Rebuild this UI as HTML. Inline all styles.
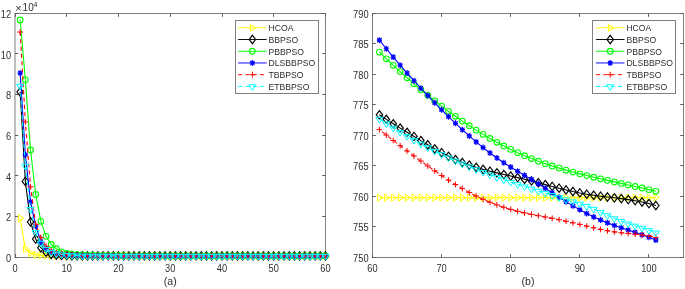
<!DOCTYPE html>
<html><head><meta charset="utf-8"><title>Convergence curves</title>
<style>html,body{margin:0;padding:0;background:#fff;width:685px;height:289px;overflow:hidden;font-family:"Liberation Sans",sans-serif}svg{display:block;will-change:transform}</style>
</head><body>
<svg width="685" height="289" viewBox="0 0 685 289">
<rect width="685" height="289" fill="#ffffff"/>
<rect x="15.0" y="13.5" width="310.5" height="244.0" fill="none" stroke="#7f7f7f" stroke-width="1"/>
<path d="M15.5,257.5v-3.3M15.5,13.5v3.3" stroke="#5e5e5e" stroke-width="1"/>
<path d="M66.5,257.5v-3.3M66.5,13.5v3.3" stroke="#5e5e5e" stroke-width="1"/>
<path d="M118.5,257.5v-3.3M118.5,13.5v3.3" stroke="#5e5e5e" stroke-width="1"/>
<path d="M170.5,257.5v-3.3M170.5,13.5v3.3" stroke="#5e5e5e" stroke-width="1"/>
<path d="M222.5,257.5v-3.3M222.5,13.5v3.3" stroke="#5e5e5e" stroke-width="1"/>
<path d="M273.5,257.5v-3.3M273.5,13.5v3.3" stroke="#5e5e5e" stroke-width="1"/>
<path d="M325.5,257.5v-3.3M325.5,13.5v3.3" stroke="#5e5e5e" stroke-width="1"/>
<path d="M15.0,257.5h3.3M325.5,257.5h-3.3" stroke="#5e5e5e" stroke-width="1"/>
<path d="M15.0,216.5h3.3M325.5,216.5h-3.3" stroke="#5e5e5e" stroke-width="1"/>
<path d="M15.0,175.5h3.3M325.5,175.5h-3.3" stroke="#5e5e5e" stroke-width="1"/>
<path d="M15.0,135.5h3.3M325.5,135.5h-3.3" stroke="#5e5e5e" stroke-width="1"/>
<path d="M15.0,94.5h3.3M325.5,94.5h-3.3" stroke="#5e5e5e" stroke-width="1"/>
<path d="M15.0,53.5h3.3M325.5,53.5h-3.3" stroke="#5e5e5e" stroke-width="1"/>
<path d="M15.0,13.5h3.3M325.5,13.5h-3.3" stroke="#5e5e5e" stroke-width="1"/>
<polyline points="20.18,218.26 25.35,248.96 30.52,253.23 35.70,254.86 40.88,255.35 46.05,255.62 51.23,255.77 56.40,255.86 61.58,255.90 66.75,255.92 71.92,255.94 77.10,255.95 82.28,255.95 87.45,255.95 92.62,255.95 97.80,255.95 102.97,255.95 108.15,255.95 113.33,255.95 118.50,255.95 123.67,255.95 128.85,255.95 134.03,255.95 139.20,255.95 144.38,255.95 149.55,255.95 154.72,255.95 159.90,255.95 165.07,255.95 170.25,255.95 175.43,255.95 180.60,255.95 185.78,255.95 190.95,255.95 196.12,255.95 201.30,255.95 206.47,255.95 211.65,255.95 216.82,255.95 222.00,255.95 227.18,255.95 232.35,255.95 237.53,255.95 242.70,255.95 247.88,255.95 253.05,255.95 258.23,255.95 263.40,255.95 268.57,255.95 273.75,255.95 278.93,255.95 284.10,255.95 289.27,255.95 294.45,255.95 299.62,255.95 304.80,255.95 309.98,255.95 315.15,255.95 320.32,255.95 325.50,255.95" fill="none" stroke="#ffff00" stroke-width="1.1"/>
<polygon points="18.38,214.76 18.38,221.76 23.57,218.26" fill="none" stroke="#ffff00" stroke-width="1.0"/>
<polygon points="23.55,245.46 23.55,252.46 28.75,248.96" fill="none" stroke="#ffff00" stroke-width="1.0"/>
<polygon points="28.72,249.73 28.72,256.73 33.92,253.23" fill="none" stroke="#ffff00" stroke-width="1.0"/>
<polygon points="33.90,251.36 33.90,258.36 39.10,254.86" fill="none" stroke="#ffff00" stroke-width="1.0"/>
<polygon points="39.08,251.85 39.08,258.85 44.27,255.35" fill="none" stroke="#ffff00" stroke-width="1.0"/>
<polygon points="44.25,252.12 44.25,259.12 49.45,255.62" fill="none" stroke="#ffff00" stroke-width="1.0"/>
<polygon points="49.43,252.27 49.43,259.27 54.62,255.77" fill="none" stroke="#ffff00" stroke-width="1.0"/>
<polygon points="54.60,252.36 54.60,259.36 59.80,255.86" fill="none" stroke="#ffff00" stroke-width="1.0"/>
<polygon points="59.78,252.40 59.78,259.40 64.98,255.90" fill="none" stroke="#ffff00" stroke-width="1.0"/>
<polygon points="64.95,252.42 64.95,259.42 70.15,255.92" fill="none" stroke="#ffff00" stroke-width="1.0"/>
<polygon points="70.12,252.44 70.12,259.44 75.33,255.94" fill="none" stroke="#ffff00" stroke-width="1.0"/>
<polygon points="75.30,252.45 75.30,259.45 80.50,255.95" fill="none" stroke="#ffff00" stroke-width="1.0"/>
<polygon points="80.48,252.45 80.48,259.45 85.68,255.95" fill="none" stroke="#ffff00" stroke-width="1.0"/>
<polygon points="85.65,252.45 85.65,259.45 90.85,255.95" fill="none" stroke="#ffff00" stroke-width="1.0"/>
<polygon points="90.83,252.45 90.83,259.45 96.03,255.95" fill="none" stroke="#ffff00" stroke-width="1.0"/>
<polygon points="96.00,252.45 96.00,259.45 101.20,255.95" fill="none" stroke="#ffff00" stroke-width="1.0"/>
<polygon points="101.17,252.45 101.17,259.45 106.38,255.95" fill="none" stroke="#ffff00" stroke-width="1.0"/>
<polygon points="106.35,252.45 106.35,259.45 111.55,255.95" fill="none" stroke="#ffff00" stroke-width="1.0"/>
<polygon points="111.53,252.45 111.53,259.45 116.73,255.95" fill="none" stroke="#ffff00" stroke-width="1.0"/>
<polygon points="116.70,252.45 116.70,259.45 121.90,255.95" fill="none" stroke="#ffff00" stroke-width="1.0"/>
<polygon points="121.88,252.45 121.88,259.45 127.08,255.95" fill="none" stroke="#ffff00" stroke-width="1.0"/>
<polygon points="127.05,252.45 127.05,259.45 132.25,255.95" fill="none" stroke="#ffff00" stroke-width="1.0"/>
<polygon points="132.22,252.45 132.22,259.45 137.43,255.95" fill="none" stroke="#ffff00" stroke-width="1.0"/>
<polygon points="137.40,252.45 137.40,259.45 142.60,255.95" fill="none" stroke="#ffff00" stroke-width="1.0"/>
<polygon points="142.57,252.45 142.57,259.45 147.78,255.95" fill="none" stroke="#ffff00" stroke-width="1.0"/>
<polygon points="147.75,252.45 147.75,259.45 152.95,255.95" fill="none" stroke="#ffff00" stroke-width="1.0"/>
<polygon points="152.92,252.45 152.92,259.45 158.12,255.95" fill="none" stroke="#ffff00" stroke-width="1.0"/>
<polygon points="158.10,252.45 158.10,259.45 163.30,255.95" fill="none" stroke="#ffff00" stroke-width="1.0"/>
<polygon points="163.27,252.45 163.27,259.45 168.47,255.95" fill="none" stroke="#ffff00" stroke-width="1.0"/>
<polygon points="168.45,252.45 168.45,259.45 173.65,255.95" fill="none" stroke="#ffff00" stroke-width="1.0"/>
<polygon points="173.62,252.45 173.62,259.45 178.83,255.95" fill="none" stroke="#ffff00" stroke-width="1.0"/>
<polygon points="178.80,252.45 178.80,259.45 184.00,255.95" fill="none" stroke="#ffff00" stroke-width="1.0"/>
<polygon points="183.97,252.45 183.97,259.45 189.18,255.95" fill="none" stroke="#ffff00" stroke-width="1.0"/>
<polygon points="189.15,252.45 189.15,259.45 194.35,255.95" fill="none" stroke="#ffff00" stroke-width="1.0"/>
<polygon points="194.32,252.45 194.32,259.45 199.53,255.95" fill="none" stroke="#ffff00" stroke-width="1.0"/>
<polygon points="199.50,252.45 199.50,259.45 204.70,255.95" fill="none" stroke="#ffff00" stroke-width="1.0"/>
<polygon points="204.67,252.45 204.67,259.45 209.88,255.95" fill="none" stroke="#ffff00" stroke-width="1.0"/>
<polygon points="209.85,252.45 209.85,259.45 215.05,255.95" fill="none" stroke="#ffff00" stroke-width="1.0"/>
<polygon points="215.02,252.45 215.02,259.45 220.22,255.95" fill="none" stroke="#ffff00" stroke-width="1.0"/>
<polygon points="220.20,252.45 220.20,259.45 225.40,255.95" fill="none" stroke="#ffff00" stroke-width="1.0"/>
<polygon points="225.38,252.45 225.38,259.45 230.58,255.95" fill="none" stroke="#ffff00" stroke-width="1.0"/>
<polygon points="230.55,252.45 230.55,259.45 235.75,255.95" fill="none" stroke="#ffff00" stroke-width="1.0"/>
<polygon points="235.72,252.45 235.72,259.45 240.93,255.95" fill="none" stroke="#ffff00" stroke-width="1.0"/>
<polygon points="240.90,252.45 240.90,259.45 246.10,255.95" fill="none" stroke="#ffff00" stroke-width="1.0"/>
<polygon points="246.07,252.45 246.07,259.45 251.28,255.95" fill="none" stroke="#ffff00" stroke-width="1.0"/>
<polygon points="251.25,252.45 251.25,259.45 256.45,255.95" fill="none" stroke="#ffff00" stroke-width="1.0"/>
<polygon points="256.43,252.45 256.43,259.45 261.62,255.95" fill="none" stroke="#ffff00" stroke-width="1.0"/>
<polygon points="261.60,252.45 261.60,259.45 266.80,255.95" fill="none" stroke="#ffff00" stroke-width="1.0"/>
<polygon points="266.77,252.45 266.77,259.45 271.97,255.95" fill="none" stroke="#ffff00" stroke-width="1.0"/>
<polygon points="271.95,252.45 271.95,259.45 277.15,255.95" fill="none" stroke="#ffff00" stroke-width="1.0"/>
<polygon points="277.12,252.45 277.12,259.45 282.32,255.95" fill="none" stroke="#ffff00" stroke-width="1.0"/>
<polygon points="282.30,252.45 282.30,259.45 287.50,255.95" fill="none" stroke="#ffff00" stroke-width="1.0"/>
<polygon points="287.47,252.45 287.47,259.45 292.67,255.95" fill="none" stroke="#ffff00" stroke-width="1.0"/>
<polygon points="292.65,252.45 292.65,259.45 297.85,255.95" fill="none" stroke="#ffff00" stroke-width="1.0"/>
<polygon points="297.82,252.45 297.82,259.45 303.02,255.95" fill="none" stroke="#ffff00" stroke-width="1.0"/>
<polygon points="303.00,252.45 303.00,259.45 308.20,255.95" fill="none" stroke="#ffff00" stroke-width="1.0"/>
<polygon points="308.18,252.45 308.18,259.45 313.38,255.95" fill="none" stroke="#ffff00" stroke-width="1.0"/>
<polygon points="313.35,252.45 313.35,259.45 318.55,255.95" fill="none" stroke="#ffff00" stroke-width="1.0"/>
<polygon points="318.52,252.45 318.52,259.45 323.72,255.95" fill="none" stroke="#ffff00" stroke-width="1.0"/>
<polygon points="323.70,252.45 323.70,259.45 328.90,255.95" fill="none" stroke="#ffff00" stroke-width="1.0"/>
<polyline points="20.18,91.99 25.35,181.45 30.52,221.92 35.70,239.00 40.88,247.74 46.05,252.21 51.23,254.45 56.40,255.03 61.58,255.38 66.75,255.60 71.92,255.73 77.10,255.81 82.28,255.85 87.45,255.88 92.62,255.90 97.80,255.91 102.97,255.92 108.15,255.92 113.33,255.92 118.50,255.93 123.67,255.93 128.85,255.93 134.03,255.93 139.20,255.93 144.38,255.93 149.55,255.93 154.72,255.93 159.90,255.93 165.07,255.93 170.25,255.93 175.43,255.93 180.60,255.93 185.78,255.93 190.95,255.93 196.12,255.93 201.30,255.93 206.47,255.93 211.65,255.93 216.82,255.93 222.00,255.93 227.18,255.93 232.35,255.93 237.53,255.93 242.70,255.93 247.88,255.93 253.05,255.93 258.23,255.93 263.40,255.93 268.57,255.93 273.75,255.93 278.93,255.93 284.10,255.93 289.27,255.93 294.45,255.93 299.62,255.93 304.80,255.93 309.98,255.93 315.15,255.93 320.32,255.93 325.50,255.93" fill="none" stroke="#000000" stroke-width="1.1"/>
<polygon points="20.18,87.79 23.38,91.99 20.18,96.19 16.98,91.99" fill="none" stroke="#000000" stroke-width="1.15"/>
<polygon points="25.35,177.25 28.55,181.45 25.35,185.65 22.15,181.45" fill="none" stroke="#000000" stroke-width="1.15"/>
<polygon points="30.52,217.72 33.73,221.92 30.52,226.12 27.32,221.92" fill="none" stroke="#000000" stroke-width="1.15"/>
<polygon points="35.70,234.80 38.90,239.00 35.70,243.20 32.50,239.00" fill="none" stroke="#000000" stroke-width="1.15"/>
<polygon points="40.88,243.54 44.08,247.74 40.88,251.94 37.67,247.74" fill="none" stroke="#000000" stroke-width="1.15"/>
<polygon points="46.05,248.01 49.25,252.21 46.05,256.41 42.85,252.21" fill="none" stroke="#000000" stroke-width="1.15"/>
<polygon points="51.23,250.25 54.43,254.45 51.23,258.65 48.02,254.45" fill="none" stroke="#000000" stroke-width="1.15"/>
<polygon points="56.40,250.83 59.60,255.03 56.40,259.23 53.20,255.03" fill="none" stroke="#000000" stroke-width="1.15"/>
<polygon points="61.58,251.18 64.78,255.38 61.58,259.58 58.38,255.38" fill="none" stroke="#000000" stroke-width="1.15"/>
<polygon points="66.75,251.40 69.95,255.60 66.75,259.80 63.55,255.60" fill="none" stroke="#000000" stroke-width="1.15"/>
<polygon points="71.92,251.53 75.12,255.73 71.92,259.93 68.72,255.73" fill="none" stroke="#000000" stroke-width="1.15"/>
<polygon points="77.10,251.61 80.30,255.81 77.10,260.01 73.90,255.81" fill="none" stroke="#000000" stroke-width="1.15"/>
<polygon points="82.28,251.65 85.48,255.85 82.28,260.05 79.08,255.85" fill="none" stroke="#000000" stroke-width="1.15"/>
<polygon points="87.45,251.68 90.65,255.88 87.45,260.08 84.25,255.88" fill="none" stroke="#000000" stroke-width="1.15"/>
<polygon points="92.62,251.70 95.83,255.90 92.62,260.10 89.42,255.90" fill="none" stroke="#000000" stroke-width="1.15"/>
<polygon points="97.80,251.71 101.00,255.91 97.80,260.11 94.60,255.91" fill="none" stroke="#000000" stroke-width="1.15"/>
<polygon points="102.97,251.72 106.17,255.92 102.97,260.12 99.77,255.92" fill="none" stroke="#000000" stroke-width="1.15"/>
<polygon points="108.15,251.72 111.35,255.92 108.15,260.12 104.95,255.92" fill="none" stroke="#000000" stroke-width="1.15"/>
<polygon points="113.33,251.72 116.53,255.92 113.33,260.12 110.12,255.92" fill="none" stroke="#000000" stroke-width="1.15"/>
<polygon points="118.50,251.73 121.70,255.93 118.50,260.13 115.30,255.93" fill="none" stroke="#000000" stroke-width="1.15"/>
<polygon points="123.67,251.73 126.88,255.93 123.67,260.13 120.47,255.93" fill="none" stroke="#000000" stroke-width="1.15"/>
<polygon points="128.85,251.73 132.05,255.93 128.85,260.13 125.65,255.93" fill="none" stroke="#000000" stroke-width="1.15"/>
<polygon points="134.03,251.73 137.22,255.93 134.03,260.13 130.83,255.93" fill="none" stroke="#000000" stroke-width="1.15"/>
<polygon points="139.20,251.73 142.40,255.93 139.20,260.13 136.00,255.93" fill="none" stroke="#000000" stroke-width="1.15"/>
<polygon points="144.38,251.73 147.57,255.93 144.38,260.13 141.18,255.93" fill="none" stroke="#000000" stroke-width="1.15"/>
<polygon points="149.55,251.73 152.75,255.93 149.55,260.13 146.35,255.93" fill="none" stroke="#000000" stroke-width="1.15"/>
<polygon points="154.72,251.73 157.92,255.93 154.72,260.13 151.53,255.93" fill="none" stroke="#000000" stroke-width="1.15"/>
<polygon points="159.90,251.73 163.10,255.93 159.90,260.13 156.70,255.93" fill="none" stroke="#000000" stroke-width="1.15"/>
<polygon points="165.07,251.73 168.27,255.93 165.07,260.13 161.88,255.93" fill="none" stroke="#000000" stroke-width="1.15"/>
<polygon points="170.25,251.73 173.45,255.93 170.25,260.13 167.05,255.93" fill="none" stroke="#000000" stroke-width="1.15"/>
<polygon points="175.43,251.73 178.62,255.93 175.43,260.13 172.23,255.93" fill="none" stroke="#000000" stroke-width="1.15"/>
<polygon points="180.60,251.73 183.80,255.93 180.60,260.13 177.40,255.93" fill="none" stroke="#000000" stroke-width="1.15"/>
<polygon points="185.78,251.73 188.97,255.93 185.78,260.13 182.58,255.93" fill="none" stroke="#000000" stroke-width="1.15"/>
<polygon points="190.95,251.73 194.15,255.93 190.95,260.13 187.75,255.93" fill="none" stroke="#000000" stroke-width="1.15"/>
<polygon points="196.12,251.73 199.32,255.93 196.12,260.13 192.93,255.93" fill="none" stroke="#000000" stroke-width="1.15"/>
<polygon points="201.30,251.73 204.50,255.93 201.30,260.13 198.10,255.93" fill="none" stroke="#000000" stroke-width="1.15"/>
<polygon points="206.47,251.73 209.67,255.93 206.47,260.13 203.28,255.93" fill="none" stroke="#000000" stroke-width="1.15"/>
<polygon points="211.65,251.73 214.85,255.93 211.65,260.13 208.45,255.93" fill="none" stroke="#000000" stroke-width="1.15"/>
<polygon points="216.82,251.73 220.02,255.93 216.82,260.13 213.62,255.93" fill="none" stroke="#000000" stroke-width="1.15"/>
<polygon points="222.00,251.73 225.20,255.93 222.00,260.13 218.80,255.93" fill="none" stroke="#000000" stroke-width="1.15"/>
<polygon points="227.18,251.73 230.38,255.93 227.18,260.13 223.98,255.93" fill="none" stroke="#000000" stroke-width="1.15"/>
<polygon points="232.35,251.73 235.55,255.93 232.35,260.13 229.15,255.93" fill="none" stroke="#000000" stroke-width="1.15"/>
<polygon points="237.53,251.73 240.72,255.93 237.53,260.13 234.33,255.93" fill="none" stroke="#000000" stroke-width="1.15"/>
<polygon points="242.70,251.73 245.90,255.93 242.70,260.13 239.50,255.93" fill="none" stroke="#000000" stroke-width="1.15"/>
<polygon points="247.88,251.73 251.07,255.93 247.88,260.13 244.68,255.93" fill="none" stroke="#000000" stroke-width="1.15"/>
<polygon points="253.05,251.73 256.25,255.93 253.05,260.13 249.85,255.93" fill="none" stroke="#000000" stroke-width="1.15"/>
<polygon points="258.23,251.73 261.43,255.93 258.23,260.13 255.03,255.93" fill="none" stroke="#000000" stroke-width="1.15"/>
<polygon points="263.40,251.73 266.60,255.93 263.40,260.13 260.20,255.93" fill="none" stroke="#000000" stroke-width="1.15"/>
<polygon points="268.57,251.73 271.77,255.93 268.57,260.13 265.38,255.93" fill="none" stroke="#000000" stroke-width="1.15"/>
<polygon points="273.75,251.73 276.95,255.93 273.75,260.13 270.55,255.93" fill="none" stroke="#000000" stroke-width="1.15"/>
<polygon points="278.93,251.73 282.12,255.93 278.93,260.13 275.73,255.93" fill="none" stroke="#000000" stroke-width="1.15"/>
<polygon points="284.10,251.73 287.30,255.93 284.10,260.13 280.90,255.93" fill="none" stroke="#000000" stroke-width="1.15"/>
<polygon points="289.27,251.73 292.47,255.93 289.27,260.13 286.07,255.93" fill="none" stroke="#000000" stroke-width="1.15"/>
<polygon points="294.45,251.73 297.65,255.93 294.45,260.13 291.25,255.93" fill="none" stroke="#000000" stroke-width="1.15"/>
<polygon points="299.62,251.73 302.82,255.93 299.62,260.13 296.43,255.93" fill="none" stroke="#000000" stroke-width="1.15"/>
<polygon points="304.80,251.73 308.00,255.93 304.80,260.13 301.60,255.93" fill="none" stroke="#000000" stroke-width="1.15"/>
<polygon points="309.98,251.73 313.18,255.93 309.98,260.13 306.78,255.93" fill="none" stroke="#000000" stroke-width="1.15"/>
<polygon points="315.15,251.73 318.35,255.93 315.15,260.13 311.95,255.93" fill="none" stroke="#000000" stroke-width="1.15"/>
<polygon points="320.32,251.73 323.52,255.93 320.32,260.13 317.12,255.93" fill="none" stroke="#000000" stroke-width="1.15"/>
<polygon points="325.50,251.73 328.70,255.93 325.50,260.13 322.30,255.93" fill="none" stroke="#000000" stroke-width="1.15"/>
<polyline points="20.18,20.01 25.35,79.79 30.52,149.94 35.70,194.47 40.88,221.31 46.05,236.35 51.23,244.49 56.40,248.76 61.58,251.81 66.75,253.43 71.92,254.15 77.10,254.55 82.28,254.86 87.45,255.09 92.62,255.27 97.80,255.41 102.97,255.52 108.15,255.61 113.33,255.67 118.50,255.72 123.67,255.76 128.85,255.80 134.03,255.82 139.20,255.84 144.38,255.85 149.55,255.87 154.72,255.87 159.90,255.88 165.07,255.89 170.25,255.89 175.43,255.89 180.60,255.90 185.78,255.90 190.95,255.90 196.12,255.90 201.30,255.90 206.47,255.90 211.65,255.90 216.82,255.90 222.00,255.90 227.18,255.90 232.35,255.91 237.53,255.91 242.70,255.91 247.88,255.91 253.05,255.91 258.23,255.91 263.40,255.91 268.57,255.91 273.75,255.91 278.93,255.91 284.10,255.91 289.27,255.91 294.45,255.91 299.62,255.91 304.80,255.91 309.98,255.91 315.15,255.91 320.32,255.91 325.50,255.91" fill="none" stroke="#00ff00" stroke-width="1.1"/>
<circle cx="20.18" cy="20.01" r="2.85" fill="none" stroke="#00ff00" stroke-width="1.1"/>
<circle cx="25.35" cy="79.79" r="2.85" fill="none" stroke="#00ff00" stroke-width="1.1"/>
<circle cx="30.52" cy="149.94" r="2.85" fill="none" stroke="#00ff00" stroke-width="1.1"/>
<circle cx="35.70" cy="194.47" r="2.85" fill="none" stroke="#00ff00" stroke-width="1.1"/>
<circle cx="40.88" cy="221.31" r="2.85" fill="none" stroke="#00ff00" stroke-width="1.1"/>
<circle cx="46.05" cy="236.35" r="2.85" fill="none" stroke="#00ff00" stroke-width="1.1"/>
<circle cx="51.23" cy="244.49" r="2.85" fill="none" stroke="#00ff00" stroke-width="1.1"/>
<circle cx="56.40" cy="248.76" r="2.85" fill="none" stroke="#00ff00" stroke-width="1.1"/>
<circle cx="61.58" cy="251.81" r="2.85" fill="none" stroke="#00ff00" stroke-width="1.1"/>
<circle cx="66.75" cy="253.43" r="2.85" fill="none" stroke="#00ff00" stroke-width="1.1"/>
<circle cx="71.92" cy="254.15" r="2.85" fill="none" stroke="#00ff00" stroke-width="1.1"/>
<circle cx="77.10" cy="254.55" r="2.85" fill="none" stroke="#00ff00" stroke-width="1.1"/>
<circle cx="82.28" cy="254.86" r="2.85" fill="none" stroke="#00ff00" stroke-width="1.1"/>
<circle cx="87.45" cy="255.09" r="2.85" fill="none" stroke="#00ff00" stroke-width="1.1"/>
<circle cx="92.62" cy="255.27" r="2.85" fill="none" stroke="#00ff00" stroke-width="1.1"/>
<circle cx="97.80" cy="255.41" r="2.85" fill="none" stroke="#00ff00" stroke-width="1.1"/>
<circle cx="102.97" cy="255.52" r="2.85" fill="none" stroke="#00ff00" stroke-width="1.1"/>
<circle cx="108.15" cy="255.61" r="2.85" fill="none" stroke="#00ff00" stroke-width="1.1"/>
<circle cx="113.33" cy="255.67" r="2.85" fill="none" stroke="#00ff00" stroke-width="1.1"/>
<circle cx="118.50" cy="255.72" r="2.85" fill="none" stroke="#00ff00" stroke-width="1.1"/>
<circle cx="123.67" cy="255.76" r="2.85" fill="none" stroke="#00ff00" stroke-width="1.1"/>
<circle cx="128.85" cy="255.80" r="2.85" fill="none" stroke="#00ff00" stroke-width="1.1"/>
<circle cx="134.03" cy="255.82" r="2.85" fill="none" stroke="#00ff00" stroke-width="1.1"/>
<circle cx="139.20" cy="255.84" r="2.85" fill="none" stroke="#00ff00" stroke-width="1.1"/>
<circle cx="144.38" cy="255.85" r="2.85" fill="none" stroke="#00ff00" stroke-width="1.1"/>
<circle cx="149.55" cy="255.87" r="2.85" fill="none" stroke="#00ff00" stroke-width="1.1"/>
<circle cx="154.72" cy="255.87" r="2.85" fill="none" stroke="#00ff00" stroke-width="1.1"/>
<circle cx="159.90" cy="255.88" r="2.85" fill="none" stroke="#00ff00" stroke-width="1.1"/>
<circle cx="165.07" cy="255.89" r="2.85" fill="none" stroke="#00ff00" stroke-width="1.1"/>
<circle cx="170.25" cy="255.89" r="2.85" fill="none" stroke="#00ff00" stroke-width="1.1"/>
<circle cx="175.43" cy="255.89" r="2.85" fill="none" stroke="#00ff00" stroke-width="1.1"/>
<circle cx="180.60" cy="255.90" r="2.85" fill="none" stroke="#00ff00" stroke-width="1.1"/>
<circle cx="185.78" cy="255.90" r="2.85" fill="none" stroke="#00ff00" stroke-width="1.1"/>
<circle cx="190.95" cy="255.90" r="2.85" fill="none" stroke="#00ff00" stroke-width="1.1"/>
<circle cx="196.12" cy="255.90" r="2.85" fill="none" stroke="#00ff00" stroke-width="1.1"/>
<circle cx="201.30" cy="255.90" r="2.85" fill="none" stroke="#00ff00" stroke-width="1.1"/>
<circle cx="206.47" cy="255.90" r="2.85" fill="none" stroke="#00ff00" stroke-width="1.1"/>
<circle cx="211.65" cy="255.90" r="2.85" fill="none" stroke="#00ff00" stroke-width="1.1"/>
<circle cx="216.82" cy="255.90" r="2.85" fill="none" stroke="#00ff00" stroke-width="1.1"/>
<circle cx="222.00" cy="255.90" r="2.85" fill="none" stroke="#00ff00" stroke-width="1.1"/>
<circle cx="227.18" cy="255.90" r="2.85" fill="none" stroke="#00ff00" stroke-width="1.1"/>
<circle cx="232.35" cy="255.91" r="2.85" fill="none" stroke="#00ff00" stroke-width="1.1"/>
<circle cx="237.53" cy="255.91" r="2.85" fill="none" stroke="#00ff00" stroke-width="1.1"/>
<circle cx="242.70" cy="255.91" r="2.85" fill="none" stroke="#00ff00" stroke-width="1.1"/>
<circle cx="247.88" cy="255.91" r="2.85" fill="none" stroke="#00ff00" stroke-width="1.1"/>
<circle cx="253.05" cy="255.91" r="2.85" fill="none" stroke="#00ff00" stroke-width="1.1"/>
<circle cx="258.23" cy="255.91" r="2.85" fill="none" stroke="#00ff00" stroke-width="1.1"/>
<circle cx="263.40" cy="255.91" r="2.85" fill="none" stroke="#00ff00" stroke-width="1.1"/>
<circle cx="268.57" cy="255.91" r="2.85" fill="none" stroke="#00ff00" stroke-width="1.1"/>
<circle cx="273.75" cy="255.91" r="2.85" fill="none" stroke="#00ff00" stroke-width="1.1"/>
<circle cx="278.93" cy="255.91" r="2.85" fill="none" stroke="#00ff00" stroke-width="1.1"/>
<circle cx="284.10" cy="255.91" r="2.85" fill="none" stroke="#00ff00" stroke-width="1.1"/>
<circle cx="289.27" cy="255.91" r="2.85" fill="none" stroke="#00ff00" stroke-width="1.1"/>
<circle cx="294.45" cy="255.91" r="2.85" fill="none" stroke="#00ff00" stroke-width="1.1"/>
<circle cx="299.62" cy="255.91" r="2.85" fill="none" stroke="#00ff00" stroke-width="1.1"/>
<circle cx="304.80" cy="255.91" r="2.85" fill="none" stroke="#00ff00" stroke-width="1.1"/>
<circle cx="309.98" cy="255.91" r="2.85" fill="none" stroke="#00ff00" stroke-width="1.1"/>
<circle cx="315.15" cy="255.91" r="2.85" fill="none" stroke="#00ff00" stroke-width="1.1"/>
<circle cx="320.32" cy="255.91" r="2.85" fill="none" stroke="#00ff00" stroke-width="1.1"/>
<circle cx="325.50" cy="255.91" r="2.85" fill="none" stroke="#00ff00" stroke-width="1.1"/>
<polyline points="20.18,73.08 25.35,154.82 30.52,201.79 35.70,226.19 40.88,241.64 46.05,248.35 51.23,251.81 56.40,253.42 61.58,254.40 66.75,254.99 71.92,255.35 77.10,255.57 82.28,255.70 87.45,255.78 92.62,255.83 97.80,255.86 102.97,255.87 108.15,255.89 113.33,255.89 118.50,255.90 123.67,255.90 128.85,255.90 134.03,255.90 139.20,255.90 144.38,255.90 149.55,255.90 154.72,255.90 159.90,255.90 165.07,255.90 170.25,255.90 175.43,255.90 180.60,255.90 185.78,255.90 190.95,255.90 196.12,255.90 201.30,255.90 206.47,255.90 211.65,255.90 216.82,255.90 222.00,255.90 227.18,255.90 232.35,255.90 237.53,255.90 242.70,255.90 247.88,255.90 253.05,255.90 258.23,255.90 263.40,255.90 268.57,255.90 273.75,255.90 278.93,255.90 284.10,255.90 289.27,255.90 294.45,255.90 299.62,255.90 304.80,255.90 309.98,255.90 315.15,255.90 320.32,255.90 325.50,255.90" fill="none" stroke="#0000ff" stroke-width="1.1"/>
<path d="M20.18,70.08V76.08M17.57,73.08H22.78M18.07,70.98L22.28,75.18M18.07,75.18L22.28,70.98" stroke="#0000ff" stroke-width="1.2" fill="none"/>
<path d="M25.35,151.82V157.82M22.75,154.82H27.95M23.25,152.72L27.45,156.92M23.25,156.92L27.45,152.72" stroke="#0000ff" stroke-width="1.2" fill="none"/>
<path d="M30.52,198.79V204.79M27.92,201.79H33.12M28.42,199.69L32.62,203.89M28.42,203.89L32.62,199.69" stroke="#0000ff" stroke-width="1.2" fill="none"/>
<path d="M35.70,223.19V229.19M33.10,226.19H38.30M33.60,224.09L37.80,228.29M33.60,228.29L37.80,224.09" stroke="#0000ff" stroke-width="1.2" fill="none"/>
<path d="M40.88,238.64V244.64M38.27,241.64H43.48M38.77,239.54L42.98,243.74M38.77,243.74L42.98,239.54" stroke="#0000ff" stroke-width="1.2" fill="none"/>
<path d="M46.05,245.35V251.35M43.45,248.35H48.65M43.95,246.25L48.15,250.45M43.95,250.45L48.15,246.25" stroke="#0000ff" stroke-width="1.2" fill="none"/>
<path d="M51.23,248.81V254.81M48.62,251.81H53.83M49.12,249.71L53.33,253.91M49.12,253.91L53.33,249.71" stroke="#0000ff" stroke-width="1.2" fill="none"/>
<path d="M56.40,250.42V256.42M53.80,253.42H59.00M54.30,251.32L58.50,255.52M54.30,255.52L58.50,251.32" stroke="#0000ff" stroke-width="1.2" fill="none"/>
<path d="M61.58,251.40V257.40M58.98,254.40H64.17M59.48,252.30L63.68,256.50M59.48,256.50L63.68,252.30" stroke="#0000ff" stroke-width="1.2" fill="none"/>
<path d="M66.75,251.99V257.99M64.15,254.99H69.35M64.65,252.89L68.85,257.09M64.65,257.09L68.85,252.89" stroke="#0000ff" stroke-width="1.2" fill="none"/>
<path d="M71.92,252.35V258.35M69.33,255.35H74.52M69.83,253.25L74.02,257.45M69.83,257.45L74.02,253.25" stroke="#0000ff" stroke-width="1.2" fill="none"/>
<path d="M77.10,252.57V258.57M74.50,255.57H79.70M75.00,253.47L79.20,257.67M75.00,257.67L79.20,253.47" stroke="#0000ff" stroke-width="1.2" fill="none"/>
<path d="M82.28,252.70V258.70M79.68,255.70H84.88M80.18,253.60L84.38,257.80M80.18,257.80L84.38,253.60" stroke="#0000ff" stroke-width="1.2" fill="none"/>
<path d="M87.45,252.78V258.78M84.85,255.78H90.05M85.35,253.68L89.55,257.88M85.35,257.88L89.55,253.68" stroke="#0000ff" stroke-width="1.2" fill="none"/>
<path d="M92.62,252.83V258.83M90.03,255.83H95.22M90.53,253.73L94.72,257.93M90.53,257.93L94.72,253.73" stroke="#0000ff" stroke-width="1.2" fill="none"/>
<path d="M97.80,252.86V258.86M95.20,255.86H100.40M95.70,253.76L99.90,257.96M95.70,257.96L99.90,253.76" stroke="#0000ff" stroke-width="1.2" fill="none"/>
<path d="M102.97,252.87V258.87M100.38,255.87H105.57M100.88,253.77L105.07,257.97M100.88,257.97L105.07,253.77" stroke="#0000ff" stroke-width="1.2" fill="none"/>
<path d="M108.15,252.89V258.89M105.55,255.89H110.75M106.05,253.79L110.25,257.99M106.05,257.99L110.25,253.79" stroke="#0000ff" stroke-width="1.2" fill="none"/>
<path d="M113.33,252.89V258.89M110.73,255.89H115.92M111.23,253.79L115.42,257.99M111.23,257.99L115.42,253.79" stroke="#0000ff" stroke-width="1.2" fill="none"/>
<path d="M118.50,252.90V258.90M115.90,255.90H121.10M116.40,253.80L120.60,258.00M116.40,258.00L120.60,253.80" stroke="#0000ff" stroke-width="1.2" fill="none"/>
<path d="M123.67,252.90V258.90M121.08,255.90H126.27M121.58,253.80L125.77,258.00M121.58,258.00L125.77,253.80" stroke="#0000ff" stroke-width="1.2" fill="none"/>
<path d="M128.85,252.90V258.90M126.25,255.90H131.45M126.75,253.80L130.95,258.00M126.75,258.00L130.95,253.80" stroke="#0000ff" stroke-width="1.2" fill="none"/>
<path d="M134.03,252.90V258.90M131.43,255.90H136.62M131.93,253.80L136.12,258.00M131.93,258.00L136.12,253.80" stroke="#0000ff" stroke-width="1.2" fill="none"/>
<path d="M139.20,252.90V258.90M136.60,255.90H141.80M137.10,253.80L141.30,258.00M137.10,258.00L141.30,253.80" stroke="#0000ff" stroke-width="1.2" fill="none"/>
<path d="M144.38,252.90V258.90M141.78,255.90H146.97M142.28,253.80L146.47,258.00M142.28,258.00L146.47,253.80" stroke="#0000ff" stroke-width="1.2" fill="none"/>
<path d="M149.55,252.90V258.90M146.95,255.90H152.15M147.45,253.80L151.65,258.00M147.45,258.00L151.65,253.80" stroke="#0000ff" stroke-width="1.2" fill="none"/>
<path d="M154.72,252.90V258.90M152.12,255.90H157.32M152.62,253.80L156.82,258.00M152.62,258.00L156.82,253.80" stroke="#0000ff" stroke-width="1.2" fill="none"/>
<path d="M159.90,252.90V258.90M157.30,255.90H162.50M157.80,253.80L162.00,258.00M157.80,258.00L162.00,253.80" stroke="#0000ff" stroke-width="1.2" fill="none"/>
<path d="M165.07,252.90V258.90M162.47,255.90H167.67M162.97,253.80L167.17,258.00M162.97,258.00L167.17,253.80" stroke="#0000ff" stroke-width="1.2" fill="none"/>
<path d="M170.25,252.90V258.90M167.65,255.90H172.85M168.15,253.80L172.35,258.00M168.15,258.00L172.35,253.80" stroke="#0000ff" stroke-width="1.2" fill="none"/>
<path d="M175.43,252.90V258.90M172.83,255.90H178.03M173.33,253.80L177.53,258.00M173.33,258.00L177.53,253.80" stroke="#0000ff" stroke-width="1.2" fill="none"/>
<path d="M180.60,252.90V258.90M178.00,255.90H183.20M178.50,253.80L182.70,258.00M178.50,258.00L182.70,253.80" stroke="#0000ff" stroke-width="1.2" fill="none"/>
<path d="M185.78,252.90V258.90M183.18,255.90H188.38M183.68,253.80L187.88,258.00M183.68,258.00L187.88,253.80" stroke="#0000ff" stroke-width="1.2" fill="none"/>
<path d="M190.95,252.90V258.90M188.35,255.90H193.55M188.85,253.80L193.05,258.00M188.85,258.00L193.05,253.80" stroke="#0000ff" stroke-width="1.2" fill="none"/>
<path d="M196.12,252.90V258.90M193.53,255.90H198.72M194.03,253.80L198.22,258.00M194.03,258.00L198.22,253.80" stroke="#0000ff" stroke-width="1.2" fill="none"/>
<path d="M201.30,252.90V258.90M198.70,255.90H203.90M199.20,253.80L203.40,258.00M199.20,258.00L203.40,253.80" stroke="#0000ff" stroke-width="1.2" fill="none"/>
<path d="M206.47,252.90V258.90M203.88,255.90H209.07M204.38,253.80L208.57,258.00M204.38,258.00L208.57,253.80" stroke="#0000ff" stroke-width="1.2" fill="none"/>
<path d="M211.65,252.90V258.90M209.05,255.90H214.25M209.55,253.80L213.75,258.00M209.55,258.00L213.75,253.80" stroke="#0000ff" stroke-width="1.2" fill="none"/>
<path d="M216.82,252.90V258.90M214.22,255.90H219.42M214.72,253.80L218.92,258.00M214.72,258.00L218.92,253.80" stroke="#0000ff" stroke-width="1.2" fill="none"/>
<path d="M222.00,252.90V258.90M219.40,255.90H224.60M219.90,253.80L224.10,258.00M219.90,258.00L224.10,253.80" stroke="#0000ff" stroke-width="1.2" fill="none"/>
<path d="M227.18,252.90V258.90M224.58,255.90H229.78M225.08,253.80L229.28,258.00M225.08,258.00L229.28,253.80" stroke="#0000ff" stroke-width="1.2" fill="none"/>
<path d="M232.35,252.90V258.90M229.75,255.90H234.95M230.25,253.80L234.45,258.00M230.25,258.00L234.45,253.80" stroke="#0000ff" stroke-width="1.2" fill="none"/>
<path d="M237.53,252.90V258.90M234.93,255.90H240.12M235.43,253.80L239.62,258.00M235.43,258.00L239.62,253.80" stroke="#0000ff" stroke-width="1.2" fill="none"/>
<path d="M242.70,252.90V258.90M240.10,255.90H245.30M240.60,253.80L244.80,258.00M240.60,258.00L244.80,253.80" stroke="#0000ff" stroke-width="1.2" fill="none"/>
<path d="M247.88,252.90V258.90M245.28,255.90H250.47M245.78,253.80L249.97,258.00M245.78,258.00L249.97,253.80" stroke="#0000ff" stroke-width="1.2" fill="none"/>
<path d="M253.05,252.90V258.90M250.45,255.90H255.65M250.95,253.80L255.15,258.00M250.95,258.00L255.15,253.80" stroke="#0000ff" stroke-width="1.2" fill="none"/>
<path d="M258.23,252.90V258.90M255.63,255.90H260.83M256.12,253.80L260.33,258.00M256.12,258.00L260.33,253.80" stroke="#0000ff" stroke-width="1.2" fill="none"/>
<path d="M263.40,252.90V258.90M260.80,255.90H266.00M261.30,253.80L265.50,258.00M261.30,258.00L265.50,253.80" stroke="#0000ff" stroke-width="1.2" fill="none"/>
<path d="M268.57,252.90V258.90M265.97,255.90H271.18M266.47,253.80L270.68,258.00M266.47,258.00L270.68,253.80" stroke="#0000ff" stroke-width="1.2" fill="none"/>
<path d="M273.75,252.90V258.90M271.15,255.90H276.35M271.65,253.80L275.85,258.00M271.65,258.00L275.85,253.80" stroke="#0000ff" stroke-width="1.2" fill="none"/>
<path d="M278.93,252.90V258.90M276.32,255.90H281.53M276.82,253.80L281.03,258.00M276.82,258.00L281.03,253.80" stroke="#0000ff" stroke-width="1.2" fill="none"/>
<path d="M284.10,252.90V258.90M281.50,255.90H286.70M282.00,253.80L286.20,258.00M282.00,258.00L286.20,253.80" stroke="#0000ff" stroke-width="1.2" fill="none"/>
<path d="M289.27,252.90V258.90M286.67,255.90H291.88M287.17,253.80L291.38,258.00M287.17,258.00L291.38,253.80" stroke="#0000ff" stroke-width="1.2" fill="none"/>
<path d="M294.45,252.90V258.90M291.85,255.90H297.05M292.35,253.80L296.55,258.00M292.35,258.00L296.55,253.80" stroke="#0000ff" stroke-width="1.2" fill="none"/>
<path d="M299.62,252.90V258.90M297.02,255.90H302.23M297.52,253.80L301.73,258.00M297.52,258.00L301.73,253.80" stroke="#0000ff" stroke-width="1.2" fill="none"/>
<path d="M304.80,252.90V258.90M302.20,255.90H307.40M302.70,253.80L306.90,258.00M302.70,258.00L306.90,253.80" stroke="#0000ff" stroke-width="1.2" fill="none"/>
<path d="M309.98,252.90V258.90M307.38,255.90H312.58M307.88,253.80L312.08,258.00M307.88,258.00L312.08,253.80" stroke="#0000ff" stroke-width="1.2" fill="none"/>
<path d="M315.15,252.90V258.90M312.55,255.90H317.75M313.05,253.80L317.25,258.00M313.05,258.00L317.25,253.80" stroke="#0000ff" stroke-width="1.2" fill="none"/>
<path d="M320.32,252.90V258.90M317.72,255.90H322.93M318.22,253.80L322.43,258.00M318.22,258.00L322.43,253.80" stroke="#0000ff" stroke-width="1.2" fill="none"/>
<path d="M325.50,252.90V258.90M322.90,255.90H328.10M323.40,253.80L327.60,258.00M323.40,258.00L327.60,253.80" stroke="#0000ff" stroke-width="1.2" fill="none"/>
<polyline points="20.18,32.00 25.35,121.88 30.52,186.74 35.70,224.36 40.88,237.57 46.05,246.32 51.23,250.99 56.40,252.94 61.58,254.12 66.75,254.83 71.92,255.26 77.10,255.53 82.28,255.69 87.45,255.78 92.62,255.84 97.80,255.88 102.97,255.90 108.15,255.91 113.33,255.92 118.50,255.92 123.67,255.93 128.85,255.93 134.03,255.93 139.20,255.93 144.38,255.93 149.55,255.93 154.72,255.93 159.90,255.93 165.07,255.93 170.25,255.93 175.43,255.93 180.60,255.93 185.78,255.93 190.95,255.93 196.12,255.93 201.30,255.93 206.47,255.93 211.65,255.93 216.82,255.93 222.00,255.93 227.18,255.93 232.35,255.93 237.53,255.93 242.70,255.93 247.88,255.93 253.05,255.93 258.23,255.93 263.40,255.93 268.57,255.93 273.75,255.93 278.93,255.93 284.10,255.93 289.27,255.93 294.45,255.93 299.62,255.93 304.80,255.93 309.98,255.93 315.15,255.93 320.32,255.93 325.50,255.93" fill="none" stroke="#ff0000" stroke-width="1.1" stroke-dasharray="4.1 3.2" stroke-dashoffset="0.0"/>
<path d="M20.18,29.10V34.90M17.28,32.00H23.07" stroke="#ff0000" stroke-width="1.0" fill="none"/>
<path d="M25.35,118.98V124.78M22.45,121.88H28.25" stroke="#ff0000" stroke-width="1.0" fill="none"/>
<path d="M30.52,183.84V189.64M27.62,186.74H33.42" stroke="#ff0000" stroke-width="1.0" fill="none"/>
<path d="M35.70,221.46V227.26M32.80,224.36H38.60" stroke="#ff0000" stroke-width="1.0" fill="none"/>
<path d="M40.88,234.67V240.47M37.98,237.57H43.77" stroke="#ff0000" stroke-width="1.0" fill="none"/>
<path d="M46.05,243.42V249.22M43.15,246.32H48.95" stroke="#ff0000" stroke-width="1.0" fill="none"/>
<path d="M51.23,248.09V253.89M48.33,250.99H54.12" stroke="#ff0000" stroke-width="1.0" fill="none"/>
<path d="M56.40,250.04V255.84M53.50,252.94H59.30" stroke="#ff0000" stroke-width="1.0" fill="none"/>
<path d="M61.58,251.22V257.02M58.68,254.12H64.48" stroke="#ff0000" stroke-width="1.0" fill="none"/>
<path d="M66.75,251.93V257.73M63.85,254.83H69.65" stroke="#ff0000" stroke-width="1.0" fill="none"/>
<path d="M71.92,252.36V258.16M69.02,255.26H74.83" stroke="#ff0000" stroke-width="1.0" fill="none"/>
<path d="M77.10,252.63V258.43M74.20,255.53H80.00" stroke="#ff0000" stroke-width="1.0" fill="none"/>
<path d="M82.28,252.79V258.59M79.38,255.69H85.18" stroke="#ff0000" stroke-width="1.0" fill="none"/>
<path d="M87.45,252.88V258.68M84.55,255.78H90.35" stroke="#ff0000" stroke-width="1.0" fill="none"/>
<path d="M92.62,252.94V258.74M89.72,255.84H95.53" stroke="#ff0000" stroke-width="1.0" fill="none"/>
<path d="M97.80,252.98V258.78M94.90,255.88H100.70" stroke="#ff0000" stroke-width="1.0" fill="none"/>
<path d="M102.97,253.00V258.80M100.07,255.90H105.88" stroke="#ff0000" stroke-width="1.0" fill="none"/>
<path d="M108.15,253.01V258.81M105.25,255.91H111.05" stroke="#ff0000" stroke-width="1.0" fill="none"/>
<path d="M113.33,253.02V258.82M110.42,255.92H116.23" stroke="#ff0000" stroke-width="1.0" fill="none"/>
<path d="M118.50,253.02V258.82M115.60,255.92H121.40" stroke="#ff0000" stroke-width="1.0" fill="none"/>
<path d="M123.67,253.03V258.83M120.77,255.93H126.58" stroke="#ff0000" stroke-width="1.0" fill="none"/>
<path d="M128.85,253.03V258.83M125.95,255.93H131.75" stroke="#ff0000" stroke-width="1.0" fill="none"/>
<path d="M134.03,253.03V258.83M131.12,255.93H136.93" stroke="#ff0000" stroke-width="1.0" fill="none"/>
<path d="M139.20,253.03V258.83M136.30,255.93H142.10" stroke="#ff0000" stroke-width="1.0" fill="none"/>
<path d="M144.38,253.03V258.83M141.47,255.93H147.28" stroke="#ff0000" stroke-width="1.0" fill="none"/>
<path d="M149.55,253.03V258.83M146.65,255.93H152.45" stroke="#ff0000" stroke-width="1.0" fill="none"/>
<path d="M154.72,253.03V258.83M151.82,255.93H157.62" stroke="#ff0000" stroke-width="1.0" fill="none"/>
<path d="M159.90,253.03V258.83M157.00,255.93H162.80" stroke="#ff0000" stroke-width="1.0" fill="none"/>
<path d="M165.07,253.03V258.83M162.17,255.93H167.97" stroke="#ff0000" stroke-width="1.0" fill="none"/>
<path d="M170.25,253.03V258.83M167.35,255.93H173.15" stroke="#ff0000" stroke-width="1.0" fill="none"/>
<path d="M175.43,253.03V258.83M172.53,255.93H178.33" stroke="#ff0000" stroke-width="1.0" fill="none"/>
<path d="M180.60,253.03V258.83M177.70,255.93H183.50" stroke="#ff0000" stroke-width="1.0" fill="none"/>
<path d="M185.78,253.03V258.83M182.88,255.93H188.68" stroke="#ff0000" stroke-width="1.0" fill="none"/>
<path d="M190.95,253.03V258.83M188.05,255.93H193.85" stroke="#ff0000" stroke-width="1.0" fill="none"/>
<path d="M196.12,253.03V258.83M193.22,255.93H199.03" stroke="#ff0000" stroke-width="1.0" fill="none"/>
<path d="M201.30,253.03V258.83M198.40,255.93H204.20" stroke="#ff0000" stroke-width="1.0" fill="none"/>
<path d="M206.47,253.03V258.83M203.57,255.93H209.38" stroke="#ff0000" stroke-width="1.0" fill="none"/>
<path d="M211.65,253.03V258.83M208.75,255.93H214.55" stroke="#ff0000" stroke-width="1.0" fill="none"/>
<path d="M216.82,253.03V258.83M213.92,255.93H219.72" stroke="#ff0000" stroke-width="1.0" fill="none"/>
<path d="M222.00,253.03V258.83M219.10,255.93H224.90" stroke="#ff0000" stroke-width="1.0" fill="none"/>
<path d="M227.18,253.03V258.83M224.28,255.93H230.08" stroke="#ff0000" stroke-width="1.0" fill="none"/>
<path d="M232.35,253.03V258.83M229.45,255.93H235.25" stroke="#ff0000" stroke-width="1.0" fill="none"/>
<path d="M237.53,253.03V258.83M234.62,255.93H240.43" stroke="#ff0000" stroke-width="1.0" fill="none"/>
<path d="M242.70,253.03V258.83M239.80,255.93H245.60" stroke="#ff0000" stroke-width="1.0" fill="none"/>
<path d="M247.88,253.03V258.83M244.97,255.93H250.78" stroke="#ff0000" stroke-width="1.0" fill="none"/>
<path d="M253.05,253.03V258.83M250.15,255.93H255.95" stroke="#ff0000" stroke-width="1.0" fill="none"/>
<path d="M258.23,253.03V258.83M255.33,255.93H261.12" stroke="#ff0000" stroke-width="1.0" fill="none"/>
<path d="M263.40,253.03V258.83M260.50,255.93H266.30" stroke="#ff0000" stroke-width="1.0" fill="none"/>
<path d="M268.57,253.03V258.83M265.68,255.93H271.47" stroke="#ff0000" stroke-width="1.0" fill="none"/>
<path d="M273.75,253.03V258.83M270.85,255.93H276.65" stroke="#ff0000" stroke-width="1.0" fill="none"/>
<path d="M278.93,253.03V258.83M276.03,255.93H281.82" stroke="#ff0000" stroke-width="1.0" fill="none"/>
<path d="M284.10,253.03V258.83M281.20,255.93H287.00" stroke="#ff0000" stroke-width="1.0" fill="none"/>
<path d="M289.27,253.03V258.83M286.38,255.93H292.17" stroke="#ff0000" stroke-width="1.0" fill="none"/>
<path d="M294.45,253.03V258.83M291.55,255.93H297.35" stroke="#ff0000" stroke-width="1.0" fill="none"/>
<path d="M299.62,253.03V258.83M296.73,255.93H302.52" stroke="#ff0000" stroke-width="1.0" fill="none"/>
<path d="M304.80,253.03V258.83M301.90,255.93H307.70" stroke="#ff0000" stroke-width="1.0" fill="none"/>
<path d="M309.98,253.03V258.83M307.08,255.93H312.88" stroke="#ff0000" stroke-width="1.0" fill="none"/>
<path d="M315.15,253.03V258.83M312.25,255.93H318.05" stroke="#ff0000" stroke-width="1.0" fill="none"/>
<path d="M320.32,253.03V258.83M317.43,255.93H323.22" stroke="#ff0000" stroke-width="1.0" fill="none"/>
<path d="M325.50,253.03V258.83M322.60,255.93H328.40" stroke="#ff0000" stroke-width="1.0" fill="none"/>
<polyline points="20.18,85.89 25.35,165.80 30.52,209.11 35.70,232.08 40.88,242.86 46.05,248.96 51.23,252.21 56.40,253.68 61.58,254.56 66.75,255.10 71.92,255.43 77.10,255.62 82.28,255.74 87.45,255.82 92.62,255.86 97.80,255.89 102.97,255.90 108.15,255.91 113.33,255.92 118.50,255.92 123.67,255.92 128.85,255.93 134.03,255.93 139.20,255.93 144.38,255.93 149.55,255.93 154.72,255.93 159.90,255.93 165.07,255.93 170.25,255.93 175.43,255.93 180.60,255.93 185.78,255.93 190.95,255.93 196.12,255.93 201.30,255.93 206.47,255.93 211.65,255.93 216.82,255.93 222.00,255.93 227.18,255.93 232.35,255.93 237.53,255.93 242.70,255.93 247.88,255.93 253.05,255.93 258.23,255.93 263.40,255.93 268.57,255.93 273.75,255.93 278.93,255.93 284.10,255.93 289.27,255.93 294.45,255.93 299.62,255.93 304.80,255.93 309.98,255.93 315.15,255.93 320.32,255.93 325.50,255.93" fill="none" stroke="#00ffff" stroke-width="1.1" stroke-dasharray="4.1 3.2" stroke-dashoffset="0.0"/>
<polygon points="16.57,84.29 23.78,84.29 20.18,89.99" fill="none" stroke="#00ffff" stroke-width="1.0"/>
<polygon points="21.75,164.20 28.95,164.20 25.35,169.90" fill="none" stroke="#00ffff" stroke-width="1.0"/>
<polygon points="26.92,207.51 34.12,207.51 30.52,213.21" fill="none" stroke="#00ffff" stroke-width="1.0"/>
<polygon points="32.10,230.48 39.30,230.48 35.70,236.18" fill="none" stroke="#00ffff" stroke-width="1.0"/>
<polygon points="37.27,241.26 44.48,241.26 40.88,246.96" fill="none" stroke="#00ffff" stroke-width="1.0"/>
<polygon points="42.45,247.36 49.65,247.36 46.05,253.06" fill="none" stroke="#00ffff" stroke-width="1.0"/>
<polygon points="47.62,250.61 54.83,250.61 51.23,256.31" fill="none" stroke="#00ffff" stroke-width="1.0"/>
<polygon points="52.80,252.08 60.00,252.08 56.40,257.78" fill="none" stroke="#00ffff" stroke-width="1.0"/>
<polygon points="57.98,252.96 65.17,252.96 61.58,258.66" fill="none" stroke="#00ffff" stroke-width="1.0"/>
<polygon points="63.15,253.50 70.35,253.50 66.75,259.20" fill="none" stroke="#00ffff" stroke-width="1.0"/>
<polygon points="68.33,253.83 75.52,253.83 71.92,259.53" fill="none" stroke="#00ffff" stroke-width="1.0"/>
<polygon points="73.50,254.02 80.70,254.02 77.10,259.72" fill="none" stroke="#00ffff" stroke-width="1.0"/>
<polygon points="78.68,254.14 85.88,254.14 82.28,259.84" fill="none" stroke="#00ffff" stroke-width="1.0"/>
<polygon points="83.85,254.22 91.05,254.22 87.45,259.92" fill="none" stroke="#00ffff" stroke-width="1.0"/>
<polygon points="89.03,254.26 96.22,254.26 92.62,259.96" fill="none" stroke="#00ffff" stroke-width="1.0"/>
<polygon points="94.20,254.29 101.40,254.29 97.80,259.99" fill="none" stroke="#00ffff" stroke-width="1.0"/>
<polygon points="99.38,254.30 106.57,254.30 102.97,260.00" fill="none" stroke="#00ffff" stroke-width="1.0"/>
<polygon points="104.55,254.31 111.75,254.31 108.15,260.01" fill="none" stroke="#00ffff" stroke-width="1.0"/>
<polygon points="109.73,254.32 116.92,254.32 113.33,260.02" fill="none" stroke="#00ffff" stroke-width="1.0"/>
<polygon points="114.90,254.32 122.10,254.32 118.50,260.02" fill="none" stroke="#00ffff" stroke-width="1.0"/>
<polygon points="120.08,254.32 127.27,254.32 123.67,260.02" fill="none" stroke="#00ffff" stroke-width="1.0"/>
<polygon points="125.25,254.33 132.45,254.33 128.85,260.03" fill="none" stroke="#00ffff" stroke-width="1.0"/>
<polygon points="130.43,254.33 137.62,254.33 134.03,260.03" fill="none" stroke="#00ffff" stroke-width="1.0"/>
<polygon points="135.60,254.33 142.80,254.33 139.20,260.03" fill="none" stroke="#00ffff" stroke-width="1.0"/>
<polygon points="140.78,254.33 147.97,254.33 144.38,260.03" fill="none" stroke="#00ffff" stroke-width="1.0"/>
<polygon points="145.95,254.33 153.15,254.33 149.55,260.03" fill="none" stroke="#00ffff" stroke-width="1.0"/>
<polygon points="151.12,254.33 158.32,254.33 154.72,260.03" fill="none" stroke="#00ffff" stroke-width="1.0"/>
<polygon points="156.30,254.33 163.50,254.33 159.90,260.03" fill="none" stroke="#00ffff" stroke-width="1.0"/>
<polygon points="161.47,254.33 168.67,254.33 165.07,260.03" fill="none" stroke="#00ffff" stroke-width="1.0"/>
<polygon points="166.65,254.33 173.85,254.33 170.25,260.03" fill="none" stroke="#00ffff" stroke-width="1.0"/>
<polygon points="171.83,254.33 179.03,254.33 175.43,260.03" fill="none" stroke="#00ffff" stroke-width="1.0"/>
<polygon points="177.00,254.33 184.20,254.33 180.60,260.03" fill="none" stroke="#00ffff" stroke-width="1.0"/>
<polygon points="182.18,254.33 189.38,254.33 185.78,260.03" fill="none" stroke="#00ffff" stroke-width="1.0"/>
<polygon points="187.35,254.33 194.55,254.33 190.95,260.03" fill="none" stroke="#00ffff" stroke-width="1.0"/>
<polygon points="192.53,254.33 199.72,254.33 196.12,260.03" fill="none" stroke="#00ffff" stroke-width="1.0"/>
<polygon points="197.70,254.33 204.90,254.33 201.30,260.03" fill="none" stroke="#00ffff" stroke-width="1.0"/>
<polygon points="202.88,254.33 210.07,254.33 206.47,260.03" fill="none" stroke="#00ffff" stroke-width="1.0"/>
<polygon points="208.05,254.33 215.25,254.33 211.65,260.03" fill="none" stroke="#00ffff" stroke-width="1.0"/>
<polygon points="213.22,254.33 220.42,254.33 216.82,260.03" fill="none" stroke="#00ffff" stroke-width="1.0"/>
<polygon points="218.40,254.33 225.60,254.33 222.00,260.03" fill="none" stroke="#00ffff" stroke-width="1.0"/>
<polygon points="223.58,254.33 230.78,254.33 227.18,260.03" fill="none" stroke="#00ffff" stroke-width="1.0"/>
<polygon points="228.75,254.33 235.95,254.33 232.35,260.03" fill="none" stroke="#00ffff" stroke-width="1.0"/>
<polygon points="233.93,254.33 241.12,254.33 237.53,260.03" fill="none" stroke="#00ffff" stroke-width="1.0"/>
<polygon points="239.10,254.33 246.30,254.33 242.70,260.03" fill="none" stroke="#00ffff" stroke-width="1.0"/>
<polygon points="244.28,254.33 251.47,254.33 247.88,260.03" fill="none" stroke="#00ffff" stroke-width="1.0"/>
<polygon points="249.45,254.33 256.65,254.33 253.05,260.03" fill="none" stroke="#00ffff" stroke-width="1.0"/>
<polygon points="254.63,254.33 261.83,254.33 258.23,260.03" fill="none" stroke="#00ffff" stroke-width="1.0"/>
<polygon points="259.80,254.33 267.00,254.33 263.40,260.03" fill="none" stroke="#00ffff" stroke-width="1.0"/>
<polygon points="264.97,254.33 272.18,254.33 268.57,260.03" fill="none" stroke="#00ffff" stroke-width="1.0"/>
<polygon points="270.15,254.33 277.35,254.33 273.75,260.03" fill="none" stroke="#00ffff" stroke-width="1.0"/>
<polygon points="275.32,254.33 282.53,254.33 278.93,260.03" fill="none" stroke="#00ffff" stroke-width="1.0"/>
<polygon points="280.50,254.33 287.70,254.33 284.10,260.03" fill="none" stroke="#00ffff" stroke-width="1.0"/>
<polygon points="285.67,254.33 292.88,254.33 289.27,260.03" fill="none" stroke="#00ffff" stroke-width="1.0"/>
<polygon points="290.85,254.33 298.05,254.33 294.45,260.03" fill="none" stroke="#00ffff" stroke-width="1.0"/>
<polygon points="296.02,254.33 303.23,254.33 299.62,260.03" fill="none" stroke="#00ffff" stroke-width="1.0"/>
<polygon points="301.20,254.33 308.40,254.33 304.80,260.03" fill="none" stroke="#00ffff" stroke-width="1.0"/>
<polygon points="306.38,254.33 313.58,254.33 309.98,260.03" fill="none" stroke="#00ffff" stroke-width="1.0"/>
<polygon points="311.55,254.33 318.75,254.33 315.15,260.03" fill="none" stroke="#00ffff" stroke-width="1.0"/>
<polygon points="316.72,254.33 323.93,254.33 320.32,260.03" fill="none" stroke="#00ffff" stroke-width="1.0"/>
<polygon points="321.90,254.33 329.10,254.33 325.50,260.03" fill="none" stroke="#00ffff" stroke-width="1.0"/>
<rect x="372.5" y="13.5" width="311.0" height="244.0" fill="none" stroke="#7f7f7f" stroke-width="1"/>
<path d="M372.5,257.5v-3.3M372.5,13.5v3.3" stroke="#5e5e5e" stroke-width="1"/>
<path d="M441.5,257.5v-3.3M441.5,13.5v3.3" stroke="#5e5e5e" stroke-width="1"/>
<path d="M510.5,257.5v-3.3M510.5,13.5v3.3" stroke="#5e5e5e" stroke-width="1"/>
<path d="M579.5,257.5v-3.3M579.5,13.5v3.3" stroke="#5e5e5e" stroke-width="1"/>
<path d="M648.5,257.5v-3.3M648.5,13.5v3.3" stroke="#5e5e5e" stroke-width="1"/>
<path d="M372.5,257.5h3.3M683.5,257.5h-3.3" stroke="#5e5e5e" stroke-width="1"/>
<path d="M372.5,226.5h3.3M683.5,226.5h-3.3" stroke="#5e5e5e" stroke-width="1"/>
<path d="M372.5,196.5h3.3M683.5,196.5h-3.3" stroke="#5e5e5e" stroke-width="1"/>
<path d="M372.5,165.5h3.3M683.5,165.5h-3.3" stroke="#5e5e5e" stroke-width="1"/>
<path d="M372.5,135.5h3.3M683.5,135.5h-3.3" stroke="#5e5e5e" stroke-width="1"/>
<path d="M372.5,104.5h3.3M683.5,104.5h-3.3" stroke="#5e5e5e" stroke-width="1"/>
<path d="M372.5,74.5h3.3M683.5,74.5h-3.3" stroke="#5e5e5e" stroke-width="1"/>
<path d="M372.5,43.5h3.3M683.5,43.5h-3.3" stroke="#5e5e5e" stroke-width="1"/>
<path d="M372.5,13.5h3.3M683.5,13.5h-3.3" stroke="#5e5e5e" stroke-width="1"/>
<polyline points="379.41,197.72 386.32,197.72 393.23,197.72 400.14,197.72 407.06,197.72 413.97,197.72 420.88,197.72 427.79,197.72 434.70,197.72 441.61,197.72 448.52,197.72 455.43,197.72 462.34,197.72 469.26,197.72 476.17,197.72 483.08,197.72 489.99,197.72 496.90,197.72 503.81,197.72 510.72,197.72 517.63,197.72 524.54,197.72 531.46,197.72 538.37,197.72 545.28,197.72 552.19,197.72 559.10,197.72 566.01,197.72 572.92,197.72 579.83,197.72 586.74,197.72 593.66,197.72 600.57,197.72 607.48,197.72 614.39,197.72 621.30,197.72 628.21,197.72 635.12,197.72 642.03,197.72 648.94,197.72 655.86,197.72" fill="none" stroke="#ffff00" stroke-width="1.1"/>
<polygon points="377.61,194.22 377.61,201.22 382.81,197.72" fill="none" stroke="#ffff00" stroke-width="1.0"/>
<polygon points="384.52,194.22 384.52,201.22 389.72,197.72" fill="none" stroke="#ffff00" stroke-width="1.0"/>
<polygon points="391.43,194.22 391.43,201.22 396.63,197.72" fill="none" stroke="#ffff00" stroke-width="1.0"/>
<polygon points="398.34,194.22 398.34,201.22 403.54,197.72" fill="none" stroke="#ffff00" stroke-width="1.0"/>
<polygon points="405.26,194.22 405.26,201.22 410.46,197.72" fill="none" stroke="#ffff00" stroke-width="1.0"/>
<polygon points="412.17,194.22 412.17,201.22 417.37,197.72" fill="none" stroke="#ffff00" stroke-width="1.0"/>
<polygon points="419.08,194.22 419.08,201.22 424.28,197.72" fill="none" stroke="#ffff00" stroke-width="1.0"/>
<polygon points="425.99,194.22 425.99,201.22 431.19,197.72" fill="none" stroke="#ffff00" stroke-width="1.0"/>
<polygon points="432.90,194.22 432.90,201.22 438.10,197.72" fill="none" stroke="#ffff00" stroke-width="1.0"/>
<polygon points="439.81,194.22 439.81,201.22 445.01,197.72" fill="none" stroke="#ffff00" stroke-width="1.0"/>
<polygon points="446.72,194.22 446.72,201.22 451.92,197.72" fill="none" stroke="#ffff00" stroke-width="1.0"/>
<polygon points="453.63,194.22 453.63,201.22 458.83,197.72" fill="none" stroke="#ffff00" stroke-width="1.0"/>
<polygon points="460.54,194.22 460.54,201.22 465.74,197.72" fill="none" stroke="#ffff00" stroke-width="1.0"/>
<polygon points="467.46,194.22 467.46,201.22 472.66,197.72" fill="none" stroke="#ffff00" stroke-width="1.0"/>
<polygon points="474.37,194.22 474.37,201.22 479.57,197.72" fill="none" stroke="#ffff00" stroke-width="1.0"/>
<polygon points="481.28,194.22 481.28,201.22 486.48,197.72" fill="none" stroke="#ffff00" stroke-width="1.0"/>
<polygon points="488.19,194.22 488.19,201.22 493.39,197.72" fill="none" stroke="#ffff00" stroke-width="1.0"/>
<polygon points="495.10,194.22 495.10,201.22 500.30,197.72" fill="none" stroke="#ffff00" stroke-width="1.0"/>
<polygon points="502.01,194.22 502.01,201.22 507.21,197.72" fill="none" stroke="#ffff00" stroke-width="1.0"/>
<polygon points="508.92,194.22 508.92,201.22 514.12,197.72" fill="none" stroke="#ffff00" stroke-width="1.0"/>
<polygon points="515.83,194.22 515.83,201.22 521.03,197.72" fill="none" stroke="#ffff00" stroke-width="1.0"/>
<polygon points="522.74,194.22 522.74,201.22 527.94,197.72" fill="none" stroke="#ffff00" stroke-width="1.0"/>
<polygon points="529.66,194.22 529.66,201.22 534.86,197.72" fill="none" stroke="#ffff00" stroke-width="1.0"/>
<polygon points="536.57,194.22 536.57,201.22 541.77,197.72" fill="none" stroke="#ffff00" stroke-width="1.0"/>
<polygon points="543.48,194.22 543.48,201.22 548.68,197.72" fill="none" stroke="#ffff00" stroke-width="1.0"/>
<polygon points="550.39,194.22 550.39,201.22 555.59,197.72" fill="none" stroke="#ffff00" stroke-width="1.0"/>
<polygon points="557.30,194.22 557.30,201.22 562.50,197.72" fill="none" stroke="#ffff00" stroke-width="1.0"/>
<polygon points="564.21,194.22 564.21,201.22 569.41,197.72" fill="none" stroke="#ffff00" stroke-width="1.0"/>
<polygon points="571.12,194.22 571.12,201.22 576.32,197.72" fill="none" stroke="#ffff00" stroke-width="1.0"/>
<polygon points="578.03,194.22 578.03,201.22 583.23,197.72" fill="none" stroke="#ffff00" stroke-width="1.0"/>
<polygon points="584.94,194.22 584.94,201.22 590.14,197.72" fill="none" stroke="#ffff00" stroke-width="1.0"/>
<polygon points="591.86,194.22 591.86,201.22 597.06,197.72" fill="none" stroke="#ffff00" stroke-width="1.0"/>
<polygon points="598.77,194.22 598.77,201.22 603.97,197.72" fill="none" stroke="#ffff00" stroke-width="1.0"/>
<polygon points="605.68,194.22 605.68,201.22 610.88,197.72" fill="none" stroke="#ffff00" stroke-width="1.0"/>
<polygon points="612.59,194.22 612.59,201.22 617.79,197.72" fill="none" stroke="#ffff00" stroke-width="1.0"/>
<polygon points="619.50,194.22 619.50,201.22 624.70,197.72" fill="none" stroke="#ffff00" stroke-width="1.0"/>
<polygon points="626.41,194.22 626.41,201.22 631.61,197.72" fill="none" stroke="#ffff00" stroke-width="1.0"/>
<polygon points="633.32,194.22 633.32,201.22 638.52,197.72" fill="none" stroke="#ffff00" stroke-width="1.0"/>
<polygon points="640.23,194.22 640.23,201.22 645.43,197.72" fill="none" stroke="#ffff00" stroke-width="1.0"/>
<polygon points="647.14,194.22 647.14,201.22 652.34,197.72" fill="none" stroke="#ffff00" stroke-width="1.0"/>
<polygon points="654.06,194.22 654.06,201.22 659.26,197.72" fill="none" stroke="#ffff00" stroke-width="1.0"/>
<polyline points="379.41,114.82 386.32,119.36 393.23,123.80 400.14,128.12 407.06,132.31 413.97,136.45 420.88,140.62 427.79,144.77 434.70,148.81 441.61,152.68 448.52,156.30 455.43,159.60 462.34,162.51 469.26,165.08 476.17,167.35 483.08,169.37 489.99,171.20 496.90,172.89 503.81,174.48 510.72,176.03 517.63,177.60 524.54,179.23 531.46,180.96 538.37,182.77 545.28,184.61 552.19,186.44 559.10,188.22 566.01,189.92 572.92,191.51 579.83,192.94 586.74,194.20 593.66,195.26 600.57,196.18 607.48,197.01 614.39,197.81 621.30,198.65 628.21,199.59 635.12,200.67 642.03,201.98 648.94,203.56 655.86,205.48" fill="none" stroke="#000000" stroke-width="1.1"/>
<polygon points="379.41,110.62 382.61,114.82 379.41,119.02 376.21,114.82" fill="none" stroke="#000000" stroke-width="1.15"/>
<polygon points="386.32,115.16 389.52,119.36 386.32,123.56 383.12,119.36" fill="none" stroke="#000000" stroke-width="1.15"/>
<polygon points="393.23,119.60 396.43,123.80 393.23,128.00 390.03,123.80" fill="none" stroke="#000000" stroke-width="1.15"/>
<polygon points="400.14,123.92 403.34,128.12 400.14,132.32 396.94,128.12" fill="none" stroke="#000000" stroke-width="1.15"/>
<polygon points="407.06,128.11 410.26,132.31 407.06,136.51 403.86,132.31" fill="none" stroke="#000000" stroke-width="1.15"/>
<polygon points="413.97,132.25 417.17,136.45 413.97,140.65 410.77,136.45" fill="none" stroke="#000000" stroke-width="1.15"/>
<polygon points="420.88,136.42 424.08,140.62 420.88,144.82 417.68,140.62" fill="none" stroke="#000000" stroke-width="1.15"/>
<polygon points="427.79,140.57 430.99,144.77 427.79,148.97 424.59,144.77" fill="none" stroke="#000000" stroke-width="1.15"/>
<polygon points="434.70,144.61 437.90,148.81 434.70,153.01 431.50,148.81" fill="none" stroke="#000000" stroke-width="1.15"/>
<polygon points="441.61,148.48 444.81,152.68 441.61,156.88 438.41,152.68" fill="none" stroke="#000000" stroke-width="1.15"/>
<polygon points="448.52,152.10 451.72,156.30 448.52,160.50 445.32,156.30" fill="none" stroke="#000000" stroke-width="1.15"/>
<polygon points="455.43,155.40 458.63,159.60 455.43,163.80 452.23,159.60" fill="none" stroke="#000000" stroke-width="1.15"/>
<polygon points="462.34,158.31 465.54,162.51 462.34,166.71 459.14,162.51" fill="none" stroke="#000000" stroke-width="1.15"/>
<polygon points="469.26,160.88 472.46,165.08 469.26,169.28 466.06,165.08" fill="none" stroke="#000000" stroke-width="1.15"/>
<polygon points="476.17,163.15 479.37,167.35 476.17,171.55 472.97,167.35" fill="none" stroke="#000000" stroke-width="1.15"/>
<polygon points="483.08,165.17 486.28,169.37 483.08,173.57 479.88,169.37" fill="none" stroke="#000000" stroke-width="1.15"/>
<polygon points="489.99,167.00 493.19,171.20 489.99,175.40 486.79,171.20" fill="none" stroke="#000000" stroke-width="1.15"/>
<polygon points="496.90,168.69 500.10,172.89 496.90,177.09 493.70,172.89" fill="none" stroke="#000000" stroke-width="1.15"/>
<polygon points="503.81,170.28 507.01,174.48 503.81,178.68 500.61,174.48" fill="none" stroke="#000000" stroke-width="1.15"/>
<polygon points="510.72,171.83 513.92,176.03 510.72,180.23 507.52,176.03" fill="none" stroke="#000000" stroke-width="1.15"/>
<polygon points="517.63,173.40 520.83,177.60 517.63,181.80 514.43,177.60" fill="none" stroke="#000000" stroke-width="1.15"/>
<polygon points="524.54,175.03 527.74,179.23 524.54,183.43 521.34,179.23" fill="none" stroke="#000000" stroke-width="1.15"/>
<polygon points="531.46,176.76 534.66,180.96 531.46,185.16 528.26,180.96" fill="none" stroke="#000000" stroke-width="1.15"/>
<polygon points="538.37,178.57 541.57,182.77 538.37,186.97 535.17,182.77" fill="none" stroke="#000000" stroke-width="1.15"/>
<polygon points="545.28,180.41 548.48,184.61 545.28,188.81 542.08,184.61" fill="none" stroke="#000000" stroke-width="1.15"/>
<polygon points="552.19,182.24 555.39,186.44 552.19,190.64 548.99,186.44" fill="none" stroke="#000000" stroke-width="1.15"/>
<polygon points="559.10,184.02 562.30,188.22 559.10,192.42 555.90,188.22" fill="none" stroke="#000000" stroke-width="1.15"/>
<polygon points="566.01,185.72 569.21,189.92 566.01,194.12 562.81,189.92" fill="none" stroke="#000000" stroke-width="1.15"/>
<polygon points="572.92,187.31 576.12,191.51 572.92,195.71 569.72,191.51" fill="none" stroke="#000000" stroke-width="1.15"/>
<polygon points="579.83,188.74 583.03,192.94 579.83,197.14 576.63,192.94" fill="none" stroke="#000000" stroke-width="1.15"/>
<polygon points="586.74,190.00 589.94,194.20 586.74,198.40 583.54,194.20" fill="none" stroke="#000000" stroke-width="1.15"/>
<polygon points="593.66,191.06 596.86,195.26 593.66,199.46 590.46,195.26" fill="none" stroke="#000000" stroke-width="1.15"/>
<polygon points="600.57,191.98 603.77,196.18 600.57,200.38 597.37,196.18" fill="none" stroke="#000000" stroke-width="1.15"/>
<polygon points="607.48,192.81 610.68,197.01 607.48,201.21 604.28,197.01" fill="none" stroke="#000000" stroke-width="1.15"/>
<polygon points="614.39,193.61 617.59,197.81 614.39,202.01 611.19,197.81" fill="none" stroke="#000000" stroke-width="1.15"/>
<polygon points="621.30,194.45 624.50,198.65 621.30,202.85 618.10,198.65" fill="none" stroke="#000000" stroke-width="1.15"/>
<polygon points="628.21,195.39 631.41,199.59 628.21,203.79 625.01,199.59" fill="none" stroke="#000000" stroke-width="1.15"/>
<polygon points="635.12,196.47 638.32,200.67 635.12,204.87 631.92,200.67" fill="none" stroke="#000000" stroke-width="1.15"/>
<polygon points="642.03,197.78 645.23,201.98 642.03,206.18 638.83,201.98" fill="none" stroke="#000000" stroke-width="1.15"/>
<polygon points="648.94,199.36 652.14,203.56 648.94,207.76 645.74,203.56" fill="none" stroke="#000000" stroke-width="1.15"/>
<polygon points="655.86,201.28 659.06,205.48 655.86,209.68 652.66,205.48" fill="none" stroke="#000000" stroke-width="1.15"/>
<polyline points="379.41,52.16 386.32,58.80 393.23,65.29 400.14,71.62 407.06,77.79 413.97,83.80 420.88,89.65 427.79,95.33 434.70,100.83 441.61,106.17 448.52,111.32 455.43,116.30 462.34,121.10 469.26,125.72 476.17,130.15 483.08,134.39 489.99,138.43 496.90,142.29 503.81,145.94 510.72,149.40 517.63,152.65 524.54,155.70 531.46,158.54 538.37,161.18 545.28,163.65 552.19,165.96 559.10,168.12 566.01,170.15 572.92,172.06 579.83,173.86 586.74,175.58 593.66,177.23 600.57,178.82 607.48,180.37 614.39,181.89 621.30,183.40 628.21,184.92 635.12,186.45 642.03,188.02 648.94,189.63 655.86,191.31" fill="none" stroke="#00ff00" stroke-width="1.1"/>
<circle cx="379.41" cy="52.16" r="2.85" fill="none" stroke="#00ff00" stroke-width="1.1"/>
<circle cx="386.32" cy="58.80" r="2.85" fill="none" stroke="#00ff00" stroke-width="1.1"/>
<circle cx="393.23" cy="65.29" r="2.85" fill="none" stroke="#00ff00" stroke-width="1.1"/>
<circle cx="400.14" cy="71.62" r="2.85" fill="none" stroke="#00ff00" stroke-width="1.1"/>
<circle cx="407.06" cy="77.79" r="2.85" fill="none" stroke="#00ff00" stroke-width="1.1"/>
<circle cx="413.97" cy="83.80" r="2.85" fill="none" stroke="#00ff00" stroke-width="1.1"/>
<circle cx="420.88" cy="89.65" r="2.85" fill="none" stroke="#00ff00" stroke-width="1.1"/>
<circle cx="427.79" cy="95.33" r="2.85" fill="none" stroke="#00ff00" stroke-width="1.1"/>
<circle cx="434.70" cy="100.83" r="2.85" fill="none" stroke="#00ff00" stroke-width="1.1"/>
<circle cx="441.61" cy="106.17" r="2.85" fill="none" stroke="#00ff00" stroke-width="1.1"/>
<circle cx="448.52" cy="111.32" r="2.85" fill="none" stroke="#00ff00" stroke-width="1.1"/>
<circle cx="455.43" cy="116.30" r="2.85" fill="none" stroke="#00ff00" stroke-width="1.1"/>
<circle cx="462.34" cy="121.10" r="2.85" fill="none" stroke="#00ff00" stroke-width="1.1"/>
<circle cx="469.26" cy="125.72" r="2.85" fill="none" stroke="#00ff00" stroke-width="1.1"/>
<circle cx="476.17" cy="130.15" r="2.85" fill="none" stroke="#00ff00" stroke-width="1.1"/>
<circle cx="483.08" cy="134.39" r="2.85" fill="none" stroke="#00ff00" stroke-width="1.1"/>
<circle cx="489.99" cy="138.43" r="2.85" fill="none" stroke="#00ff00" stroke-width="1.1"/>
<circle cx="496.90" cy="142.29" r="2.85" fill="none" stroke="#00ff00" stroke-width="1.1"/>
<circle cx="503.81" cy="145.94" r="2.85" fill="none" stroke="#00ff00" stroke-width="1.1"/>
<circle cx="510.72" cy="149.40" r="2.85" fill="none" stroke="#00ff00" stroke-width="1.1"/>
<circle cx="517.63" cy="152.65" r="2.85" fill="none" stroke="#00ff00" stroke-width="1.1"/>
<circle cx="524.54" cy="155.70" r="2.85" fill="none" stroke="#00ff00" stroke-width="1.1"/>
<circle cx="531.46" cy="158.54" r="2.85" fill="none" stroke="#00ff00" stroke-width="1.1"/>
<circle cx="538.37" cy="161.18" r="2.85" fill="none" stroke="#00ff00" stroke-width="1.1"/>
<circle cx="545.28" cy="163.65" r="2.85" fill="none" stroke="#00ff00" stroke-width="1.1"/>
<circle cx="552.19" cy="165.96" r="2.85" fill="none" stroke="#00ff00" stroke-width="1.1"/>
<circle cx="559.10" cy="168.12" r="2.85" fill="none" stroke="#00ff00" stroke-width="1.1"/>
<circle cx="566.01" cy="170.15" r="2.85" fill="none" stroke="#00ff00" stroke-width="1.1"/>
<circle cx="572.92" cy="172.06" r="2.85" fill="none" stroke="#00ff00" stroke-width="1.1"/>
<circle cx="579.83" cy="173.86" r="2.85" fill="none" stroke="#00ff00" stroke-width="1.1"/>
<circle cx="586.74" cy="175.58" r="2.85" fill="none" stroke="#00ff00" stroke-width="1.1"/>
<circle cx="593.66" cy="177.23" r="2.85" fill="none" stroke="#00ff00" stroke-width="1.1"/>
<circle cx="600.57" cy="178.82" r="2.85" fill="none" stroke="#00ff00" stroke-width="1.1"/>
<circle cx="607.48" cy="180.37" r="2.85" fill="none" stroke="#00ff00" stroke-width="1.1"/>
<circle cx="614.39" cy="181.89" r="2.85" fill="none" stroke="#00ff00" stroke-width="1.1"/>
<circle cx="621.30" cy="183.40" r="2.85" fill="none" stroke="#00ff00" stroke-width="1.1"/>
<circle cx="628.21" cy="184.92" r="2.85" fill="none" stroke="#00ff00" stroke-width="1.1"/>
<circle cx="635.12" cy="186.45" r="2.85" fill="none" stroke="#00ff00" stroke-width="1.1"/>
<circle cx="642.03" cy="188.02" r="2.85" fill="none" stroke="#00ff00" stroke-width="1.1"/>
<circle cx="648.94" cy="189.63" r="2.85" fill="none" stroke="#00ff00" stroke-width="1.1"/>
<circle cx="655.86" cy="191.31" r="2.85" fill="none" stroke="#00ff00" stroke-width="1.1"/>
<polyline points="379.41,40.13 386.32,48.77 393.23,57.12 400.14,65.21 407.06,73.08 413.97,80.74 420.88,88.23 427.79,95.58 434.70,102.76 441.61,109.78 448.52,116.63 455.43,123.28 462.34,129.72 469.26,135.93 476.17,141.89 483.08,147.57 489.99,152.95 496.90,158.02 503.81,162.74 510.72,167.12 517.63,171.29 524.54,175.37 531.46,179.52 538.37,183.84 545.28,188.29 552.19,192.79 559.10,197.27 566.01,201.65 572.92,205.87 579.83,209.84 586.74,213.55 593.66,216.97 600.57,220.08 607.48,222.87 614.39,225.42 621.30,227.80 628.21,230.10 635.12,232.39 642.03,234.77 648.94,237.32 655.86,240.11" fill="none" stroke="#0000ff" stroke-width="1.1"/>
<path d="M379.41,37.13V43.13M376.81,40.13H382.01M377.31,38.03L381.51,42.23M377.31,42.23L381.51,38.03" stroke="#0000ff" stroke-width="1.2" fill="none"/>
<path d="M386.32,45.77V51.77M383.72,48.77H388.92M384.22,46.67L388.42,50.87M384.22,50.87L388.42,46.67" stroke="#0000ff" stroke-width="1.2" fill="none"/>
<path d="M393.23,54.12V60.12M390.63,57.12H395.83M391.13,55.02L395.33,59.22M391.13,59.22L395.33,55.02" stroke="#0000ff" stroke-width="1.2" fill="none"/>
<path d="M400.14,62.21V68.21M397.54,65.21H402.74M398.04,63.11L402.24,67.31M398.04,67.31L402.24,63.11" stroke="#0000ff" stroke-width="1.2" fill="none"/>
<path d="M407.06,70.08V76.08M404.46,73.08H409.66M404.96,70.98L409.16,75.18M404.96,75.18L409.16,70.98" stroke="#0000ff" stroke-width="1.2" fill="none"/>
<path d="M413.97,77.74V83.74M411.37,80.74H416.57M411.87,78.64L416.07,82.84M411.87,82.84L416.07,78.64" stroke="#0000ff" stroke-width="1.2" fill="none"/>
<path d="M420.88,85.23V91.23M418.28,88.23H423.48M418.78,86.13L422.98,90.33M418.78,90.33L422.98,86.13" stroke="#0000ff" stroke-width="1.2" fill="none"/>
<path d="M427.79,92.58V98.58M425.19,95.58H430.39M425.69,93.48L429.89,97.68M425.69,97.68L429.89,93.48" stroke="#0000ff" stroke-width="1.2" fill="none"/>
<path d="M434.70,99.76V105.76M432.10,102.76H437.30M432.60,100.66L436.80,104.86M432.60,104.86L436.80,100.66" stroke="#0000ff" stroke-width="1.2" fill="none"/>
<path d="M441.61,106.78V112.78M439.01,109.78H444.21M439.51,107.68L443.71,111.88M439.51,111.88L443.71,107.68" stroke="#0000ff" stroke-width="1.2" fill="none"/>
<path d="M448.52,113.63V119.63M445.92,116.63H451.12M446.42,114.53L450.62,118.73M446.42,118.73L450.62,114.53" stroke="#0000ff" stroke-width="1.2" fill="none"/>
<path d="M455.43,120.28V126.28M452.83,123.28H458.03M453.33,121.18L457.53,125.38M453.33,125.38L457.53,121.18" stroke="#0000ff" stroke-width="1.2" fill="none"/>
<path d="M462.34,126.72V132.72M459.74,129.72H464.94M460.24,127.62L464.44,131.82M460.24,131.82L464.44,127.62" stroke="#0000ff" stroke-width="1.2" fill="none"/>
<path d="M469.26,132.93V138.93M466.66,135.93H471.86M467.16,133.83L471.36,138.03M467.16,138.03L471.36,133.83" stroke="#0000ff" stroke-width="1.2" fill="none"/>
<path d="M476.17,138.89V144.89M473.57,141.89H478.77M474.07,139.79L478.27,143.99M474.07,143.99L478.27,139.79" stroke="#0000ff" stroke-width="1.2" fill="none"/>
<path d="M483.08,144.57V150.57M480.48,147.57H485.68M480.98,145.47L485.18,149.67M480.98,149.67L485.18,145.47" stroke="#0000ff" stroke-width="1.2" fill="none"/>
<path d="M489.99,149.95V155.95M487.39,152.95H492.59M487.89,150.85L492.09,155.05M487.89,155.05L492.09,150.85" stroke="#0000ff" stroke-width="1.2" fill="none"/>
<path d="M496.90,155.02V161.02M494.30,158.02H499.50M494.80,155.92L499.00,160.12M494.80,160.12L499.00,155.92" stroke="#0000ff" stroke-width="1.2" fill="none"/>
<path d="M503.81,159.74V165.74M501.21,162.74H506.41M501.71,160.64L505.91,164.84M501.71,164.84L505.91,160.64" stroke="#0000ff" stroke-width="1.2" fill="none"/>
<path d="M510.72,164.12V170.12M508.12,167.12H513.32M508.62,165.02L512.82,169.22M508.62,169.22L512.82,165.02" stroke="#0000ff" stroke-width="1.2" fill="none"/>
<path d="M517.63,168.29V174.29M515.03,171.29H520.23M515.53,169.19L519.73,173.39M515.53,173.39L519.73,169.19" stroke="#0000ff" stroke-width="1.2" fill="none"/>
<path d="M524.54,172.37V178.37M521.94,175.37H527.14M522.44,173.27L526.64,177.47M522.44,177.47L526.64,173.27" stroke="#0000ff" stroke-width="1.2" fill="none"/>
<path d="M531.46,176.52V182.52M528.86,179.52H534.06M529.36,177.42L533.56,181.62M529.36,181.62L533.56,177.42" stroke="#0000ff" stroke-width="1.2" fill="none"/>
<path d="M538.37,180.84V186.84M535.77,183.84H540.97M536.27,181.74L540.47,185.94M536.27,185.94L540.47,181.74" stroke="#0000ff" stroke-width="1.2" fill="none"/>
<path d="M545.28,185.29V191.29M542.68,188.29H547.88M543.18,186.19L547.38,190.39M543.18,190.39L547.38,186.19" stroke="#0000ff" stroke-width="1.2" fill="none"/>
<path d="M552.19,189.79V195.79M549.59,192.79H554.79M550.09,190.69L554.29,194.89M550.09,194.89L554.29,190.69" stroke="#0000ff" stroke-width="1.2" fill="none"/>
<path d="M559.10,194.27V200.27M556.50,197.27H561.70M557.00,195.17L561.20,199.37M557.00,199.37L561.20,195.17" stroke="#0000ff" stroke-width="1.2" fill="none"/>
<path d="M566.01,198.65V204.65M563.41,201.65H568.61M563.91,199.55L568.11,203.75M563.91,203.75L568.11,199.55" stroke="#0000ff" stroke-width="1.2" fill="none"/>
<path d="M572.92,202.87V208.87M570.32,205.87H575.52M570.82,203.77L575.02,207.97M570.82,207.97L575.02,203.77" stroke="#0000ff" stroke-width="1.2" fill="none"/>
<path d="M579.83,206.84V212.84M577.23,209.84H582.43M577.73,207.74L581.93,211.94M577.73,211.94L581.93,207.74" stroke="#0000ff" stroke-width="1.2" fill="none"/>
<path d="M586.74,210.55V216.55M584.14,213.55H589.34M584.64,211.45L588.84,215.65M584.64,215.65L588.84,211.45" stroke="#0000ff" stroke-width="1.2" fill="none"/>
<path d="M593.66,213.97V219.97M591.06,216.97H596.26M591.56,214.87L595.76,219.07M591.56,219.07L595.76,214.87" stroke="#0000ff" stroke-width="1.2" fill="none"/>
<path d="M600.57,217.08V223.08M597.97,220.08H603.17M598.47,217.98L602.67,222.18M598.47,222.18L602.67,217.98" stroke="#0000ff" stroke-width="1.2" fill="none"/>
<path d="M607.48,219.87V225.87M604.88,222.87H610.08M605.38,220.77L609.58,224.97M605.38,224.97L609.58,220.77" stroke="#0000ff" stroke-width="1.2" fill="none"/>
<path d="M614.39,222.42V228.42M611.79,225.42H616.99M612.29,223.32L616.49,227.52M612.29,227.52L616.49,223.32" stroke="#0000ff" stroke-width="1.2" fill="none"/>
<path d="M621.30,224.80V230.80M618.70,227.80H623.90M619.20,225.70L623.40,229.90M619.20,229.90L623.40,225.70" stroke="#0000ff" stroke-width="1.2" fill="none"/>
<path d="M628.21,227.10V233.10M625.61,230.10H630.81M626.11,228.00L630.31,232.20M626.11,232.20L630.31,228.00" stroke="#0000ff" stroke-width="1.2" fill="none"/>
<path d="M635.12,229.39V235.39M632.52,232.39H637.72M633.02,230.29L637.22,234.49M633.02,234.49L637.22,230.29" stroke="#0000ff" stroke-width="1.2" fill="none"/>
<path d="M642.03,231.77V237.77M639.43,234.77H644.63M639.93,232.67L644.13,236.87M639.93,236.87L644.13,232.67" stroke="#0000ff" stroke-width="1.2" fill="none"/>
<path d="M648.94,234.32V240.32M646.34,237.32H651.54M646.84,235.22L651.04,239.42M646.84,239.42L651.04,235.22" stroke="#0000ff" stroke-width="1.2" fill="none"/>
<path d="M655.86,237.11V243.11M653.26,240.11H658.46M653.76,238.01L657.96,242.21M653.76,242.21L657.96,238.01" stroke="#0000ff" stroke-width="1.2" fill="none"/>
<polyline points="379.41,129.60 386.32,135.08 393.23,140.45 400.14,145.73 407.06,150.92 413.97,156.02 420.88,161.05 427.79,165.98 434.70,170.83 441.61,175.56 448.52,180.13 455.43,184.50 462.34,188.64 469.26,192.52 476.17,196.11 483.08,199.37 489.99,202.30 496.90,204.93 503.81,207.29 510.72,209.43 517.63,211.32 524.54,212.96 531.46,214.41 538.37,215.73 545.28,217.02 552.19,218.34 559.10,219.75 566.01,221.25 572.92,222.83 579.83,224.45 586.74,226.12 593.66,227.79 600.57,229.37 607.48,230.77 614.39,231.89 621.30,232.78 628.21,233.48 635.12,234.15 642.03,234.93 648.94,235.96 655.86,237.39" fill="none" stroke="#ff0000" stroke-width="1.1" stroke-dasharray="4.1 3.2" stroke-dashoffset="3.6"/>
<path d="M379.41,126.70V132.50M376.51,129.60H382.31" stroke="#ff0000" stroke-width="1.0" fill="none"/>
<path d="M386.32,132.18V137.98M383.42,135.08H389.22" stroke="#ff0000" stroke-width="1.0" fill="none"/>
<path d="M393.23,137.55V143.35M390.33,140.45H396.13" stroke="#ff0000" stroke-width="1.0" fill="none"/>
<path d="M400.14,142.83V148.63M397.24,145.73H403.04" stroke="#ff0000" stroke-width="1.0" fill="none"/>
<path d="M407.06,148.02V153.82M404.16,150.92H409.96" stroke="#ff0000" stroke-width="1.0" fill="none"/>
<path d="M413.97,153.12V158.92M411.07,156.02H416.87" stroke="#ff0000" stroke-width="1.0" fill="none"/>
<path d="M420.88,158.15V163.95M417.98,161.05H423.78" stroke="#ff0000" stroke-width="1.0" fill="none"/>
<path d="M427.79,163.08V168.88M424.89,165.98H430.69" stroke="#ff0000" stroke-width="1.0" fill="none"/>
<path d="M434.70,167.93V173.73M431.80,170.83H437.60" stroke="#ff0000" stroke-width="1.0" fill="none"/>
<path d="M441.61,172.66V178.46M438.71,175.56H444.51" stroke="#ff0000" stroke-width="1.0" fill="none"/>
<path d="M448.52,177.23V183.03M445.62,180.13H451.42" stroke="#ff0000" stroke-width="1.0" fill="none"/>
<path d="M455.43,181.60V187.40M452.53,184.50H458.33" stroke="#ff0000" stroke-width="1.0" fill="none"/>
<path d="M462.34,185.74V191.54M459.44,188.64H465.24" stroke="#ff0000" stroke-width="1.0" fill="none"/>
<path d="M469.26,189.62V195.42M466.36,192.52H472.16" stroke="#ff0000" stroke-width="1.0" fill="none"/>
<path d="M476.17,193.21V199.01M473.27,196.11H479.07" stroke="#ff0000" stroke-width="1.0" fill="none"/>
<path d="M483.08,196.47V202.27M480.18,199.37H485.98" stroke="#ff0000" stroke-width="1.0" fill="none"/>
<path d="M489.99,199.40V205.20M487.09,202.30H492.89" stroke="#ff0000" stroke-width="1.0" fill="none"/>
<path d="M496.90,202.03V207.83M494.00,204.93H499.80" stroke="#ff0000" stroke-width="1.0" fill="none"/>
<path d="M503.81,204.39V210.19M500.91,207.29H506.71" stroke="#ff0000" stroke-width="1.0" fill="none"/>
<path d="M510.72,206.53V212.33M507.82,209.43H513.62" stroke="#ff0000" stroke-width="1.0" fill="none"/>
<path d="M517.63,208.42V214.22M514.73,211.32H520.53" stroke="#ff0000" stroke-width="1.0" fill="none"/>
<path d="M524.54,210.06V215.86M521.64,212.96H527.44" stroke="#ff0000" stroke-width="1.0" fill="none"/>
<path d="M531.46,211.51V217.31M528.56,214.41H534.36" stroke="#ff0000" stroke-width="1.0" fill="none"/>
<path d="M538.37,212.83V218.63M535.47,215.73H541.27" stroke="#ff0000" stroke-width="1.0" fill="none"/>
<path d="M545.28,214.12V219.92M542.38,217.02H548.18" stroke="#ff0000" stroke-width="1.0" fill="none"/>
<path d="M552.19,215.44V221.24M549.29,218.34H555.09" stroke="#ff0000" stroke-width="1.0" fill="none"/>
<path d="M559.10,216.85V222.65M556.20,219.75H562.00" stroke="#ff0000" stroke-width="1.0" fill="none"/>
<path d="M566.01,218.35V224.15M563.11,221.25H568.91" stroke="#ff0000" stroke-width="1.0" fill="none"/>
<path d="M572.92,219.93V225.73M570.02,222.83H575.82" stroke="#ff0000" stroke-width="1.0" fill="none"/>
<path d="M579.83,221.55V227.35M576.93,224.45H582.73" stroke="#ff0000" stroke-width="1.0" fill="none"/>
<path d="M586.74,223.22V229.02M583.84,226.12H589.64" stroke="#ff0000" stroke-width="1.0" fill="none"/>
<path d="M593.66,224.89V230.69M590.76,227.79H596.56" stroke="#ff0000" stroke-width="1.0" fill="none"/>
<path d="M600.57,226.47V232.27M597.67,229.37H603.47" stroke="#ff0000" stroke-width="1.0" fill="none"/>
<path d="M607.48,227.87V233.67M604.58,230.77H610.38" stroke="#ff0000" stroke-width="1.0" fill="none"/>
<path d="M614.39,228.99V234.79M611.49,231.89H617.29" stroke="#ff0000" stroke-width="1.0" fill="none"/>
<path d="M621.30,229.88V235.68M618.40,232.78H624.20" stroke="#ff0000" stroke-width="1.0" fill="none"/>
<path d="M628.21,230.58V236.38M625.31,233.48H631.11" stroke="#ff0000" stroke-width="1.0" fill="none"/>
<path d="M635.12,231.25V237.05M632.22,234.15H638.02" stroke="#ff0000" stroke-width="1.0" fill="none"/>
<path d="M642.03,232.03V237.83M639.13,234.93H644.93" stroke="#ff0000" stroke-width="1.0" fill="none"/>
<path d="M648.94,233.06V238.86M646.04,235.96H651.84" stroke="#ff0000" stroke-width="1.0" fill="none"/>
<path d="M655.86,234.49V240.29M652.96,237.39H658.76" stroke="#ff0000" stroke-width="1.0" fill="none"/>
<polyline points="379.41,118.88 386.32,123.39 393.23,127.75 400.14,131.97 407.06,136.05 413.97,139.98 420.88,143.77 427.79,147.42 434.70,150.94 441.61,154.31 448.52,157.56 455.43,160.68 462.34,163.67 469.26,166.56 476.17,169.34 483.08,172.03 489.99,174.63 496.90,177.14 503.81,179.58 510.72,181.95 517.63,184.26 524.54,186.52 531.46,188.74 538.37,190.92 545.28,193.07 552.19,195.19 559.10,197.30 566.01,199.40 572.92,201.52 579.83,203.75 586.74,206.19 593.66,208.95 600.57,212.08 607.48,215.34 614.39,218.44 621.30,221.16 628.21,223.55 635.12,225.76 642.03,227.92 648.94,230.17 655.86,232.64" fill="none" stroke="#00ffff" stroke-width="1.1" stroke-dasharray="4.1 3.2" stroke-dashoffset="0.0"/>
<polygon points="375.81,117.28 383.01,117.28 379.41,122.98" fill="none" stroke="#00ffff" stroke-width="1.0"/>
<polygon points="382.72,121.79 389.92,121.79 386.32,127.49" fill="none" stroke="#00ffff" stroke-width="1.0"/>
<polygon points="389.63,126.15 396.83,126.15 393.23,131.85" fill="none" stroke="#00ffff" stroke-width="1.0"/>
<polygon points="396.54,130.37 403.74,130.37 400.14,136.07" fill="none" stroke="#00ffff" stroke-width="1.0"/>
<polygon points="403.46,134.45 410.66,134.45 407.06,140.15" fill="none" stroke="#00ffff" stroke-width="1.0"/>
<polygon points="410.37,138.38 417.57,138.38 413.97,144.08" fill="none" stroke="#00ffff" stroke-width="1.0"/>
<polygon points="417.28,142.17 424.48,142.17 420.88,147.87" fill="none" stroke="#00ffff" stroke-width="1.0"/>
<polygon points="424.19,145.82 431.39,145.82 427.79,151.52" fill="none" stroke="#00ffff" stroke-width="1.0"/>
<polygon points="431.10,149.34 438.30,149.34 434.70,155.04" fill="none" stroke="#00ffff" stroke-width="1.0"/>
<polygon points="438.01,152.71 445.21,152.71 441.61,158.41" fill="none" stroke="#00ffff" stroke-width="1.0"/>
<polygon points="444.92,155.96 452.12,155.96 448.52,161.66" fill="none" stroke="#00ffff" stroke-width="1.0"/>
<polygon points="451.83,159.08 459.03,159.08 455.43,164.78" fill="none" stroke="#00ffff" stroke-width="1.0"/>
<polygon points="458.74,162.07 465.94,162.07 462.34,167.77" fill="none" stroke="#00ffff" stroke-width="1.0"/>
<polygon points="465.66,164.96 472.86,164.96 469.26,170.66" fill="none" stroke="#00ffff" stroke-width="1.0"/>
<polygon points="472.57,167.74 479.77,167.74 476.17,173.44" fill="none" stroke="#00ffff" stroke-width="1.0"/>
<polygon points="479.48,170.43 486.68,170.43 483.08,176.13" fill="none" stroke="#00ffff" stroke-width="1.0"/>
<polygon points="486.39,173.03 493.59,173.03 489.99,178.73" fill="none" stroke="#00ffff" stroke-width="1.0"/>
<polygon points="493.30,175.54 500.50,175.54 496.90,181.24" fill="none" stroke="#00ffff" stroke-width="1.0"/>
<polygon points="500.21,177.98 507.41,177.98 503.81,183.68" fill="none" stroke="#00ffff" stroke-width="1.0"/>
<polygon points="507.12,180.35 514.32,180.35 510.72,186.05" fill="none" stroke="#00ffff" stroke-width="1.0"/>
<polygon points="514.03,182.66 521.23,182.66 517.63,188.36" fill="none" stroke="#00ffff" stroke-width="1.0"/>
<polygon points="520.94,184.92 528.14,184.92 524.54,190.62" fill="none" stroke="#00ffff" stroke-width="1.0"/>
<polygon points="527.86,187.14 535.06,187.14 531.46,192.84" fill="none" stroke="#00ffff" stroke-width="1.0"/>
<polygon points="534.77,189.32 541.97,189.32 538.37,195.02" fill="none" stroke="#00ffff" stroke-width="1.0"/>
<polygon points="541.68,191.47 548.88,191.47 545.28,197.17" fill="none" stroke="#00ffff" stroke-width="1.0"/>
<polygon points="548.59,193.59 555.79,193.59 552.19,199.29" fill="none" stroke="#00ffff" stroke-width="1.0"/>
<polygon points="555.50,195.70 562.70,195.70 559.10,201.40" fill="none" stroke="#00ffff" stroke-width="1.0"/>
<polygon points="562.41,197.80 569.61,197.80 566.01,203.50" fill="none" stroke="#00ffff" stroke-width="1.0"/>
<polygon points="569.32,199.92 576.52,199.92 572.92,205.62" fill="none" stroke="#00ffff" stroke-width="1.0"/>
<polygon points="576.23,202.15 583.43,202.15 579.83,207.85" fill="none" stroke="#00ffff" stroke-width="1.0"/>
<polygon points="583.14,204.59 590.34,204.59 586.74,210.29" fill="none" stroke="#00ffff" stroke-width="1.0"/>
<polygon points="590.06,207.35 597.26,207.35 593.66,213.05" fill="none" stroke="#00ffff" stroke-width="1.0"/>
<polygon points="596.97,210.48 604.17,210.48 600.57,216.18" fill="none" stroke="#00ffff" stroke-width="1.0"/>
<polygon points="603.88,213.74 611.08,213.74 607.48,219.44" fill="none" stroke="#00ffff" stroke-width="1.0"/>
<polygon points="610.79,216.84 617.99,216.84 614.39,222.54" fill="none" stroke="#00ffff" stroke-width="1.0"/>
<polygon points="617.70,219.56 624.90,219.56 621.30,225.26" fill="none" stroke="#00ffff" stroke-width="1.0"/>
<polygon points="624.61,221.95 631.81,221.95 628.21,227.65" fill="none" stroke="#00ffff" stroke-width="1.0"/>
<polygon points="631.52,224.16 638.72,224.16 635.12,229.86" fill="none" stroke="#00ffff" stroke-width="1.0"/>
<polygon points="638.43,226.32 645.63,226.32 642.03,232.02" fill="none" stroke="#00ffff" stroke-width="1.0"/>
<polygon points="645.34,228.57 652.54,228.57 648.94,234.27" fill="none" stroke="#00ffff" stroke-width="1.0"/>
<polygon points="652.26,231.04 659.46,231.04 655.86,236.74" fill="none" stroke="#00ffff" stroke-width="1.0"/>
<rect x="235.5" y="20.5" width="83.0" height="73.0" fill="#ffffff" stroke="#7f7f7f" stroke-width="1"/>
<path d="M238.10,27.80H266.70" stroke="#ffff00" stroke-width="0.95"/>
<polygon points="250.60,24.30 250.60,31.30 255.80,27.80" fill="none" stroke="#ffff00" stroke-width="1.0"/>
<text x="268.60" y="30.85" font-size="8.65" fill="#2e2e2e" font-family="Liberation Sans, sans-serif">HCOA</text>
<path d="M238.10,39.52H266.70" stroke="#000000" stroke-width="0.95"/>
<polygon points="252.40,35.32 255.60,39.52 252.40,43.72 249.20,39.52" fill="none" stroke="#000000" stroke-width="1.15"/>
<text x="268.60" y="42.70" font-size="8.65" fill="#2e2e2e" font-family="Liberation Sans, sans-serif">BBPSO</text>
<path d="M238.10,51.24H266.70" stroke="#00ff00" stroke-width="0.95"/>
<circle cx="252.40" cy="51.24" r="2.85" fill="none" stroke="#00ff00" stroke-width="1.1"/>
<text x="268.60" y="54.55" font-size="8.65" fill="#2e2e2e" font-family="Liberation Sans, sans-serif">PBBPSO</text>
<path d="M238.10,62.96H266.70" stroke="#0000ff" stroke-width="0.95"/>
<path d="M252.40,59.96V65.96M249.80,62.96H255.00M250.30,60.86L254.50,65.06M250.30,65.06L254.50,60.86" stroke="#0000ff" stroke-width="1.2" fill="none"/>
<text x="268.60" y="66.40" font-size="8.65" fill="#2e2e2e" font-family="Liberation Sans, sans-serif">DLSBBPSO</text>
<path d="M238.10,74.68H266.70" stroke="#ff0000" stroke-width="0.95" stroke-dasharray="4.1 3.2"/>
<path d="M252.40,71.78V77.58M249.50,74.68H255.30" stroke="#ff0000" stroke-width="1.0" fill="none"/>
<text x="268.60" y="78.25" font-size="8.65" fill="#2e2e2e" font-family="Liberation Sans, sans-serif">TBBPSO</text>
<path d="M238.10,86.40H266.70" stroke="#00ffff" stroke-width="0.95" stroke-dasharray="4.1 3.2"/>
<polygon points="248.80,84.80 256.00,84.80 252.40,90.50" fill="none" stroke="#00ffff" stroke-width="1.0"/>
<text x="268.60" y="90.10" font-size="8.65" fill="#2e2e2e" font-family="Liberation Sans, sans-serif">ETBBPSO</text>
<rect x="592.5" y="20.5" width="83.0" height="73.0" fill="#ffffff" stroke="#7f7f7f" stroke-width="1"/>
<path d="M595.90,27.80H624.50" stroke="#ffff00" stroke-width="0.95"/>
<polygon points="608.40,24.30 608.40,31.30 613.60,27.80" fill="none" stroke="#ffff00" stroke-width="1.0"/>
<text x="626.40" y="30.85" font-size="8.65" fill="#2e2e2e" font-family="Liberation Sans, sans-serif">HCOA</text>
<path d="M595.90,39.52H624.50" stroke="#000000" stroke-width="0.95"/>
<polygon points="610.20,35.32 613.40,39.52 610.20,43.72 607.00,39.52" fill="none" stroke="#000000" stroke-width="1.15"/>
<text x="626.40" y="42.70" font-size="8.65" fill="#2e2e2e" font-family="Liberation Sans, sans-serif">BBPSO</text>
<path d="M595.90,51.24H624.50" stroke="#00ff00" stroke-width="0.95"/>
<circle cx="610.20" cy="51.24" r="2.85" fill="none" stroke="#00ff00" stroke-width="1.1"/>
<text x="626.40" y="54.55" font-size="8.65" fill="#2e2e2e" font-family="Liberation Sans, sans-serif">PBBPSO</text>
<path d="M595.90,62.96H624.50" stroke="#0000ff" stroke-width="0.95"/>
<path d="M610.20,59.96V65.96M607.60,62.96H612.80M608.10,60.86L612.30,65.06M608.10,65.06L612.30,60.86" stroke="#0000ff" stroke-width="1.2" fill="none"/>
<text x="626.40" y="66.40" font-size="8.65" fill="#2e2e2e" font-family="Liberation Sans, sans-serif">DLSBBPSO</text>
<path d="M595.90,74.68H624.50" stroke="#ff0000" stroke-width="0.95" stroke-dasharray="4.1 3.2"/>
<path d="M610.20,71.78V77.58M607.30,74.68H613.10" stroke="#ff0000" stroke-width="1.0" fill="none"/>
<text x="626.40" y="78.25" font-size="8.65" fill="#2e2e2e" font-family="Liberation Sans, sans-serif">TBBPSO</text>
<path d="M595.90,86.40H624.50" stroke="#00ffff" stroke-width="0.95" stroke-dasharray="4.1 3.2"/>
<polygon points="606.60,84.80 613.80,84.80 610.20,90.50" fill="none" stroke="#00ffff" stroke-width="1.0"/>
<text x="626.40" y="90.10" font-size="8.65" fill="#2e2e2e" font-family="Liberation Sans, sans-serif">ETBBPSO</text>
<g fill="#2e2e2e" font-family="Liberation Sans, sans-serif" font-size="9.3">
<text transform="translate(15.00,271.5) scale(1,1.1)" text-anchor="middle">0</text>
<text transform="translate(66.75,271.5) scale(1,1.1)" text-anchor="middle">10</text>
<text transform="translate(118.50,271.5) scale(1,1.1)" text-anchor="middle">20</text>
<text transform="translate(170.25,271.5) scale(1,1.1)" text-anchor="middle">30</text>
<text transform="translate(222.00,271.5) scale(1,1.1)" text-anchor="middle">40</text>
<text transform="translate(273.75,271.5) scale(1,1.1)" text-anchor="middle">50</text>
<text transform="translate(325.50,271.5) scale(1,1.1)" text-anchor="middle">60</text>
<text transform="translate(11.10,261.90) scale(1,1.1)" text-anchor="end">0</text>
<text transform="translate(11.10,221.23) scale(1,1.1)" text-anchor="end">2</text>
<text transform="translate(11.10,180.57) scale(1,1.1)" text-anchor="end">4</text>
<text transform="translate(11.10,139.90) scale(1,1.1)" text-anchor="end">6</text>
<text transform="translate(11.10,99.23) scale(1,1.1)" text-anchor="end">8</text>
<text transform="translate(11.10,58.57) scale(1,1.1)" text-anchor="end">10</text>
<text transform="translate(11.10,17.90) scale(1,1.1)" text-anchor="end">12</text>
<text x="170.25" y="285.2" text-anchor="middle" font-size="10.6">(a)</text>
<text transform="translate(372.50,271.5) scale(1,1.1)" text-anchor="middle">60</text>
<text transform="translate(441.61,271.5) scale(1,1.1)" text-anchor="middle">70</text>
<text transform="translate(510.72,271.5) scale(1,1.1)" text-anchor="middle">80</text>
<text transform="translate(579.83,271.5) scale(1,1.1)" text-anchor="middle">90</text>
<text transform="translate(648.94,271.5) scale(1,1.1)" text-anchor="middle">100</text>
<text transform="translate(368.60,261.90) scale(1,1.1)" text-anchor="end">750</text>
<text transform="translate(368.60,231.40) scale(1,1.1)" text-anchor="end">755</text>
<text transform="translate(368.60,200.90) scale(1,1.1)" text-anchor="end">760</text>
<text transform="translate(368.60,170.40) scale(1,1.1)" text-anchor="end">765</text>
<text transform="translate(368.60,139.90) scale(1,1.1)" text-anchor="end">770</text>
<text transform="translate(368.60,109.40) scale(1,1.1)" text-anchor="end">775</text>
<text transform="translate(368.60,78.90) scale(1,1.1)" text-anchor="end">780</text>
<text transform="translate(368.60,48.40) scale(1,1.1)" text-anchor="end">785</text>
<text transform="translate(368.60,17.90) scale(1,1.1)" text-anchor="end">790</text>
<text x="528.00" y="285.2" text-anchor="middle" font-size="10.6">(b)</text>
<text x="15.2" y="12.4" font-size="11">&#215;</text>
<text x="22.6" y="11.1" font-size="10">10</text>
<text x="33.6" y="6.6" font-size="7">4</text>
</g>
</svg>
</body></html>
